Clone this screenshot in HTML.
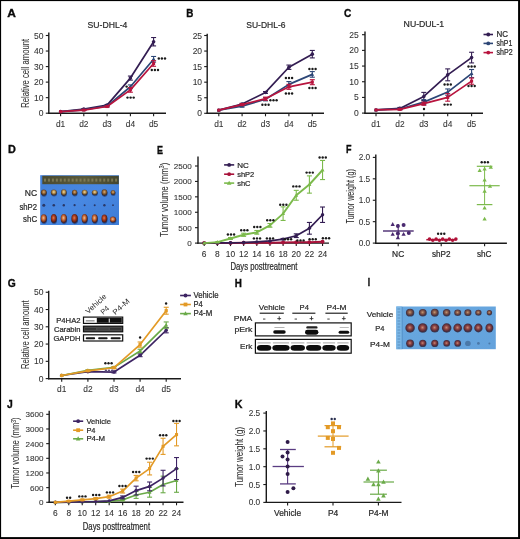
<!DOCTYPE html>
<html><head><meta charset="utf-8"><style>
html,body{margin:0;padding:0;background:#fff;}
body{width:520px;height:539px;overflow:hidden;position:relative;}
svg{position:absolute;left:0;top:0;will-change:transform;}
text{font-family:"Liberation Sans", sans-serif;}
</style></head><body>
<svg width="520" height="539" viewBox="0 0 520 539">
<defs>
<linearGradient id="gBlueD" x1="0" y1="0" x2="1" y2="1"><stop offset="0" stop-color="#4280da"/><stop offset="0.5" stop-color="#4888e2"/><stop offset="1" stop-color="#3e7cd6"/></linearGradient>
<linearGradient id="gRuler" x1="0" y1="0" x2="1" y2="0"><stop offset="0" stop-color="#4a4a30"/><stop offset="0.55" stop-color="#5a5a3c"/><stop offset="1" stop-color="#44462e"/></linearGradient>
<radialGradient id="gTumNC1" cx="0.5" cy="0.4" r="0.55"><stop offset="0" stop-color="#d8b070"/><stop offset="0.45" stop-color="#9a6a3a"/><stop offset="0.85" stop-color="#4a3424"/><stop offset="1" stop-color="#2a2a40"/></radialGradient>
<radialGradient id="gTumNC2" cx="0.5" cy="0.4" r="0.55"><stop offset="0" stop-color="#f0e0a0"/><stop offset="0.45" stop-color="#b89050"/><stop offset="0.85" stop-color="#54402a"/><stop offset="1" stop-color="#2a2a40"/></radialGradient>
<radialGradient id="gTumC1" cx="0.45" cy="0.42" r="0.55"><stop offset="0" stop-color="#f0c090"/><stop offset="0.45" stop-color="#c86a3a"/><stop offset="0.85" stop-color="#6a2c18"/><stop offset="1" stop-color="#2a2240"/></radialGradient>
<radialGradient id="gTumC2" cx="0.45" cy="0.42" r="0.55"><stop offset="0" stop-color="#e08050"/><stop offset="0.45" stop-color="#a83a20"/><stop offset="0.85" stop-color="#5a2014"/><stop offset="1" stop-color="#2a2240"/></radialGradient>
<radialGradient id="gTumI1" cx="0.47" cy="0.45" r="0.52"><stop offset="0" stop-color="#c09a78"/><stop offset="0.4" stop-color="#8a5a48"/><stop offset="0.8" stop-color="#4a3440"/><stop offset="1" stop-color="#34405e"/></radialGradient>
<radialGradient id="gTumI2" cx="0.47" cy="0.45" r="0.52"><stop offset="0" stop-color="#c88a78"/><stop offset="0.4" stop-color="#8e4444"/><stop offset="0.8" stop-color="#4a2a3a"/><stop offset="1" stop-color="#34405e"/></radialGradient>
<linearGradient id="gBlueI" x1="0" y1="0" x2="1" y2="1"><stop offset="0" stop-color="#68a8e0"/><stop offset="1" stop-color="#64a2dc"/></linearGradient><filter id="blur1" x="-10%" y="-50%" width="120%" height="200%"><feGaussianBlur stdDeviation="0.35"/></filter></defs>
<rect x="0" y="0" width="520" height="539" fill="#fff"/>
<text transform="translate(7.2 16.8) scale(1.0478 1)" x="0" y="0" font-size="11.4" font-weight="bold" fill="#0a0a0a" stroke="#0a0a0a" stroke-width="0.35">A</text>
<text x="107.5" y="27.8" font-size="9.5" text-anchor="middle" fill="#2a2a2a" stroke="#2a2a2a" stroke-width="0.22" textLength="39.8" lengthAdjust="spacingAndGlyphs">SU-DHL-4</text>
<line x1="48.8" y1="32.6" x2="48.8" y2="113.9" stroke="#1a1a1a" stroke-width="1.4"/>
<line x1="45.8" y1="113.2" x2="48.8" y2="113.2" stroke="#1a1a1a" stroke-width="1.1"/>
<text x="43.5" y="116.24" font-size="8.5" text-anchor="end" fill="#333" stroke="#333" stroke-width="0.08">0</text>
<line x1="45.8" y1="97.66" x2="48.8" y2="97.66" stroke="#1a1a1a" stroke-width="1.1"/>
<text x="43.5" y="100.7" font-size="8.5" text-anchor="end" fill="#333" stroke="#333" stroke-width="0.08">10</text>
<line x1="45.8" y1="82.12" x2="48.8" y2="82.12" stroke="#1a1a1a" stroke-width="1.1"/>
<text x="43.5" y="85.16" font-size="8.5" text-anchor="end" fill="#333" stroke="#333" stroke-width="0.08">20</text>
<line x1="45.8" y1="66.58" x2="48.8" y2="66.58" stroke="#1a1a1a" stroke-width="1.1"/>
<text x="43.5" y="69.62" font-size="8.5" text-anchor="end" fill="#333" stroke="#333" stroke-width="0.08">30</text>
<line x1="45.8" y1="51.04" x2="48.8" y2="51.04" stroke="#1a1a1a" stroke-width="1.1"/>
<text x="43.5" y="54.08" font-size="8.5" text-anchor="end" fill="#333" stroke="#333" stroke-width="0.08">40</text>
<line x1="45.8" y1="35.5" x2="48.8" y2="35.5" stroke="#1a1a1a" stroke-width="1.1"/>
<text x="43.5" y="38.54" font-size="8.5" text-anchor="end" fill="#333" stroke="#333" stroke-width="0.08">50</text>
<line x1="48.1" y1="113.3" x2="166" y2="113.3" stroke="#1a1a1a" stroke-width="1.4"/>
<line x1="60.6" y1="113.3" x2="60.6" y2="116.3" stroke="#1a1a1a" stroke-width="1.1"/>
<line x1="83.8" y1="113.3" x2="83.8" y2="116.3" stroke="#1a1a1a" stroke-width="1.1"/>
<line x1="107.1" y1="113.3" x2="107.1" y2="116.3" stroke="#1a1a1a" stroke-width="1.1"/>
<line x1="130.4" y1="113.3" x2="130.4" y2="116.3" stroke="#1a1a1a" stroke-width="1.1"/>
<line x1="153.6" y1="113.3" x2="153.6" y2="116.3" stroke="#1a1a1a" stroke-width="1.1"/>
<text x="60.6" y="127.2" font-size="8.7" text-anchor="middle" fill="#333" stroke="#333" stroke-width="0.08" textLength="9.3" lengthAdjust="spacingAndGlyphs">d1</text>
<text x="83.8" y="127.2" font-size="8.7" text-anchor="middle" fill="#333" stroke="#333" stroke-width="0.08" textLength="9.3" lengthAdjust="spacingAndGlyphs">d2</text>
<text x="107.1" y="127.2" font-size="8.7" text-anchor="middle" fill="#333" stroke="#333" stroke-width="0.08" textLength="9.3" lengthAdjust="spacingAndGlyphs">d3</text>
<text x="130.4" y="127.2" font-size="8.7" text-anchor="middle" fill="#333" stroke="#333" stroke-width="0.08" textLength="9.3" lengthAdjust="spacingAndGlyphs">d4</text>
<text x="153.6" y="127.2" font-size="8.7" text-anchor="middle" fill="#333" stroke="#333" stroke-width="0.08" textLength="9.3" lengthAdjust="spacingAndGlyphs">d5</text>
<g transform="translate(28.6 73.4) rotate(-90) scale(0.7230 1)"><text x="0" y="0" font-size="10.6" text-anchor="middle" fill="#303030" stroke="#303030" stroke-width="0.06">Relative cell amount</text></g>
<polyline points="60.6,111.65 83.8,109.16 107.1,105.12 130.4,78.08 153.6,41.72" fill="none" stroke="#331d52" stroke-width="1.7" stroke-linejoin="round"/>
<circle cx="60.6" cy="111.65" r="1.8" fill="#331d52"/>
<line x1="83.8" y1="108.69" x2="83.8" y2="109.63" stroke="#331d52" stroke-width="1.1"/>
<line x1="81.3" y1="108.69" x2="86.3" y2="108.69" stroke="#331d52" stroke-width="1.1"/>
<line x1="81.3" y1="109.63" x2="86.3" y2="109.63" stroke="#331d52" stroke-width="1.1"/>
<circle cx="83.8" cy="109.16" r="1.8" fill="#331d52"/>
<line x1="107.1" y1="104.5" x2="107.1" y2="105.74" stroke="#331d52" stroke-width="1.1"/>
<line x1="104.6" y1="104.5" x2="109.6" y2="104.5" stroke="#331d52" stroke-width="1.1"/>
<line x1="104.6" y1="105.74" x2="109.6" y2="105.74" stroke="#331d52" stroke-width="1.1"/>
<circle cx="107.1" cy="105.12" r="1.8" fill="#331d52"/>
<line x1="130.4" y1="76.06" x2="130.4" y2="80.1" stroke="#331d52" stroke-width="1.1"/>
<line x1="127.9" y1="76.06" x2="132.9" y2="76.06" stroke="#331d52" stroke-width="1.1"/>
<line x1="127.9" y1="80.1" x2="132.9" y2="80.1" stroke="#331d52" stroke-width="1.1"/>
<circle cx="130.4" cy="78.08" r="1.8" fill="#331d52"/>
<line x1="153.6" y1="37.52" x2="153.6" y2="45.91" stroke="#331d52" stroke-width="1.1"/>
<line x1="151.1" y1="37.52" x2="156.1" y2="37.52" stroke="#331d52" stroke-width="1.1"/>
<line x1="151.1" y1="45.91" x2="156.1" y2="45.91" stroke="#331d52" stroke-width="1.1"/>
<circle cx="153.6" cy="41.72" r="1.8" fill="#331d52"/>
<polyline points="60.6,111.65 83.8,109.78 107.1,106.05 130.4,86.78 153.6,59.28" fill="none" stroke="#2c4676" stroke-width="1.7" stroke-linejoin="round"/>
<polygon points="60.6,109.63 58.73,112.99 62.47,112.99" fill="#2c4676"/>
<line x1="83.8" y1="109.31" x2="83.8" y2="110.25" stroke="#2c4676" stroke-width="1.1"/>
<line x1="81.3" y1="109.31" x2="86.3" y2="109.31" stroke="#2c4676" stroke-width="1.1"/>
<line x1="81.3" y1="110.25" x2="86.3" y2="110.25" stroke="#2c4676" stroke-width="1.1"/>
<polygon points="83.8,107.76 81.93,111.13 85.67,111.13" fill="#2c4676"/>
<line x1="107.1" y1="105.43" x2="107.1" y2="106.67" stroke="#2c4676" stroke-width="1.1"/>
<line x1="104.6" y1="105.43" x2="109.6" y2="105.43" stroke="#2c4676" stroke-width="1.1"/>
<line x1="104.6" y1="106.67" x2="109.6" y2="106.67" stroke="#2c4676" stroke-width="1.1"/>
<polygon points="107.1,104.03 105.23,107.4 108.97,107.4" fill="#2c4676"/>
<line x1="130.4" y1="84.92" x2="130.4" y2="88.65" stroke="#2c4676" stroke-width="1.1"/>
<line x1="127.9" y1="84.92" x2="132.9" y2="84.92" stroke="#2c4676" stroke-width="1.1"/>
<line x1="127.9" y1="88.65" x2="132.9" y2="88.65" stroke="#2c4676" stroke-width="1.1"/>
<polygon points="130.4,84.76 128.53,88.13 132.27,88.13" fill="#2c4676"/>
<line x1="153.6" y1="56.48" x2="153.6" y2="62.07" stroke="#2c4676" stroke-width="1.1"/>
<line x1="151.1" y1="56.48" x2="156.1" y2="56.48" stroke="#2c4676" stroke-width="1.1"/>
<line x1="151.1" y1="62.07" x2="156.1" y2="62.07" stroke="#2c4676" stroke-width="1.1"/>
<polygon points="153.6,57.26 151.73,60.62 155.47,60.62" fill="#2c4676"/>
<polyline points="60.6,111.65 83.8,110.09 107.1,106.52 130.4,89.89 153.6,63.47" fill="none" stroke="#b8143e" stroke-width="1.7" stroke-linejoin="round"/>
<rect x="59.07" y="110.12" width="3.06" height="3.06" fill="#b8143e" stroke="none" stroke-width="1"/>
<line x1="83.8" y1="109.63" x2="83.8" y2="110.56" stroke="#b8143e" stroke-width="1.1"/>
<line x1="81.3" y1="109.63" x2="86.3" y2="109.63" stroke="#b8143e" stroke-width="1.1"/>
<line x1="81.3" y1="110.56" x2="86.3" y2="110.56" stroke="#b8143e" stroke-width="1.1"/>
<rect x="82.27" y="108.56" width="3.06" height="3.06" fill="#b8143e" stroke="none" stroke-width="1"/>
<line x1="107.1" y1="105.9" x2="107.1" y2="107.14" stroke="#b8143e" stroke-width="1.1"/>
<line x1="104.6" y1="105.9" x2="109.6" y2="105.9" stroke="#b8143e" stroke-width="1.1"/>
<line x1="104.6" y1="107.14" x2="109.6" y2="107.14" stroke="#b8143e" stroke-width="1.1"/>
<rect x="105.57" y="104.99" width="3.06" height="3.06" fill="#b8143e" stroke="none" stroke-width="1"/>
<line x1="130.4" y1="87.56" x2="130.4" y2="92.22" stroke="#b8143e" stroke-width="1.1"/>
<line x1="127.9" y1="87.56" x2="132.9" y2="87.56" stroke="#b8143e" stroke-width="1.1"/>
<line x1="127.9" y1="92.22" x2="132.9" y2="92.22" stroke="#b8143e" stroke-width="1.1"/>
<rect x="128.87" y="88.36" width="3.06" height="3.06" fill="#b8143e" stroke="none" stroke-width="1"/>
<line x1="153.6" y1="60.67" x2="153.6" y2="66.27" stroke="#b8143e" stroke-width="1.1"/>
<line x1="151.1" y1="60.67" x2="156.1" y2="60.67" stroke="#b8143e" stroke-width="1.1"/>
<line x1="151.1" y1="66.27" x2="156.1" y2="66.27" stroke="#b8143e" stroke-width="1.1"/>
<rect x="152.07" y="61.94" width="3.06" height="3.06" fill="#b8143e" stroke="none" stroke-width="1"/>
<circle cx="158.8" cy="58.5" r="1.2" fill="#1a1a1a"/>
<circle cx="161.9" cy="58.5" r="1.2" fill="#1a1a1a"/>
<circle cx="165" cy="58.5" r="1.2" fill="#1a1a1a"/>
<circle cx="151.8" cy="70" r="1.2" fill="#1a1a1a"/>
<circle cx="154.9" cy="70" r="1.2" fill="#1a1a1a"/>
<circle cx="158" cy="70" r="1.2" fill="#1a1a1a"/>
<circle cx="127.5" cy="97.6" r="1.2" fill="#1a1a1a"/>
<circle cx="130.6" cy="97.6" r="1.2" fill="#1a1a1a"/>
<circle cx="133.7" cy="97.6" r="1.2" fill="#1a1a1a"/>
<circle cx="126.6" cy="86.6" r="1.2" fill="#1a1a1a"/>
<text transform="translate(186.2 16.8) scale(0.8650 1)" x="0" y="0" font-size="11.4" font-weight="bold" fill="#0a0a0a" stroke="#0a0a0a" stroke-width="0.35">B</text>
<text x="265.85" y="27.7" font-size="9.5" text-anchor="middle" fill="#2a2a2a" stroke="#2a2a2a" stroke-width="0.22" textLength="39.2" lengthAdjust="spacingAndGlyphs">SU-DHL-6</text>
<line x1="207.2" y1="33.8" x2="207.2" y2="114" stroke="#1a1a1a" stroke-width="1.4"/>
<line x1="204.2" y1="113.3" x2="207.2" y2="113.3" stroke="#1a1a1a" stroke-width="1.1"/>
<text x="202.1" y="116.34" font-size="8.5" text-anchor="end" fill="#333" stroke="#333" stroke-width="0.08">0</text>
<line x1="204.2" y1="97.74" x2="207.2" y2="97.74" stroke="#1a1a1a" stroke-width="1.1"/>
<text x="202.1" y="100.78" font-size="8.5" text-anchor="end" fill="#333" stroke="#333" stroke-width="0.08">5</text>
<line x1="204.2" y1="82.18" x2="207.2" y2="82.18" stroke="#1a1a1a" stroke-width="1.1"/>
<text x="202.1" y="85.22" font-size="8.5" text-anchor="end" fill="#333" stroke="#333" stroke-width="0.08">10</text>
<line x1="204.2" y1="66.62" x2="207.2" y2="66.62" stroke="#1a1a1a" stroke-width="1.1"/>
<text x="202.1" y="69.66" font-size="8.5" text-anchor="end" fill="#333" stroke="#333" stroke-width="0.08">15</text>
<line x1="204.2" y1="51.06" x2="207.2" y2="51.06" stroke="#1a1a1a" stroke-width="1.1"/>
<text x="202.1" y="54.1" font-size="8.5" text-anchor="end" fill="#333" stroke="#333" stroke-width="0.08">20</text>
<line x1="204.2" y1="35.5" x2="207.2" y2="35.5" stroke="#1a1a1a" stroke-width="1.1"/>
<text x="202.1" y="38.54" font-size="8.5" text-anchor="end" fill="#333" stroke="#333" stroke-width="0.08">25</text>
<line x1="206.5" y1="113.3" x2="324" y2="113.3" stroke="#1a1a1a" stroke-width="1.4"/>
<line x1="218.8" y1="113.3" x2="218.8" y2="116.3" stroke="#1a1a1a" stroke-width="1.1"/>
<line x1="242.1" y1="113.3" x2="242.1" y2="116.3" stroke="#1a1a1a" stroke-width="1.1"/>
<line x1="265.5" y1="113.3" x2="265.5" y2="116.3" stroke="#1a1a1a" stroke-width="1.1"/>
<line x1="288.9" y1="113.3" x2="288.9" y2="116.3" stroke="#1a1a1a" stroke-width="1.1"/>
<line x1="312.3" y1="113.3" x2="312.3" y2="116.3" stroke="#1a1a1a" stroke-width="1.1"/>
<text x="218.8" y="127.2" font-size="8.7" text-anchor="middle" fill="#333" stroke="#333" stroke-width="0.08" textLength="9.3" lengthAdjust="spacingAndGlyphs">d1</text>
<text x="242.1" y="127.2" font-size="8.7" text-anchor="middle" fill="#333" stroke="#333" stroke-width="0.08" textLength="9.3" lengthAdjust="spacingAndGlyphs">d2</text>
<text x="265.5" y="127.2" font-size="8.7" text-anchor="middle" fill="#333" stroke="#333" stroke-width="0.08" textLength="9.3" lengthAdjust="spacingAndGlyphs">d3</text>
<text x="288.9" y="127.2" font-size="8.7" text-anchor="middle" fill="#333" stroke="#333" stroke-width="0.08" textLength="9.3" lengthAdjust="spacingAndGlyphs">d4</text>
<text x="312.3" y="127.2" font-size="8.7" text-anchor="middle" fill="#333" stroke="#333" stroke-width="0.08" textLength="9.3" lengthAdjust="spacingAndGlyphs">d5</text>
<polyline points="218.8,110.19 242.1,103.96 265.5,92.45 288.9,67.24 312.3,54.17" fill="none" stroke="#331d52" stroke-width="1.7" stroke-linejoin="round"/>
<circle cx="218.8" cy="110.19" r="1.8" fill="#331d52"/>
<line x1="242.1" y1="103.34" x2="242.1" y2="104.59" stroke="#331d52" stroke-width="1.1"/>
<line x1="239.6" y1="103.34" x2="244.6" y2="103.34" stroke="#331d52" stroke-width="1.1"/>
<line x1="239.6" y1="104.59" x2="244.6" y2="104.59" stroke="#331d52" stroke-width="1.1"/>
<circle cx="242.1" cy="103.96" r="1.8" fill="#331d52"/>
<line x1="265.5" y1="91.52" x2="265.5" y2="93.38" stroke="#331d52" stroke-width="1.1"/>
<line x1="263" y1="91.52" x2="268" y2="91.52" stroke="#331d52" stroke-width="1.1"/>
<line x1="263" y1="93.38" x2="268" y2="93.38" stroke="#331d52" stroke-width="1.1"/>
<circle cx="265.5" cy="92.45" r="1.8" fill="#331d52"/>
<line x1="288.9" y1="65.06" x2="288.9" y2="69.42" stroke="#331d52" stroke-width="1.1"/>
<line x1="286.4" y1="65.06" x2="291.4" y2="65.06" stroke="#331d52" stroke-width="1.1"/>
<line x1="286.4" y1="69.42" x2="291.4" y2="69.42" stroke="#331d52" stroke-width="1.1"/>
<circle cx="288.9" cy="67.24" r="1.8" fill="#331d52"/>
<line x1="312.3" y1="50.44" x2="312.3" y2="57.91" stroke="#331d52" stroke-width="1.1"/>
<line x1="309.8" y1="50.44" x2="314.8" y2="50.44" stroke="#331d52" stroke-width="1.1"/>
<line x1="309.8" y1="57.91" x2="314.8" y2="57.91" stroke="#331d52" stroke-width="1.1"/>
<circle cx="312.3" cy="54.17" r="1.8" fill="#331d52"/>
<polyline points="218.8,110.19 242.1,106.14 265.5,99.3 288.9,84.36 312.3,74.4" fill="none" stroke="#2c4676" stroke-width="1.7" stroke-linejoin="round"/>
<polygon points="218.8,108.17 216.93,111.53 220.67,111.53" fill="#2c4676"/>
<line x1="242.1" y1="105.21" x2="242.1" y2="107.08" stroke="#2c4676" stroke-width="1.1"/>
<line x1="239.6" y1="105.21" x2="244.6" y2="105.21" stroke="#2c4676" stroke-width="1.1"/>
<line x1="239.6" y1="107.08" x2="244.6" y2="107.08" stroke="#2c4676" stroke-width="1.1"/>
<polygon points="242.1,104.12 240.23,107.49 243.97,107.49" fill="#2c4676"/>
<line x1="265.5" y1="97.74" x2="265.5" y2="100.85" stroke="#2c4676" stroke-width="1.1"/>
<line x1="263" y1="97.74" x2="268" y2="97.74" stroke="#2c4676" stroke-width="1.1"/>
<line x1="263" y1="100.85" x2="268" y2="100.85" stroke="#2c4676" stroke-width="1.1"/>
<polygon points="265.5,97.28 263.63,100.64 267.37,100.64" fill="#2c4676"/>
<line x1="288.9" y1="81.56" x2="288.9" y2="87.16" stroke="#2c4676" stroke-width="1.1"/>
<line x1="286.4" y1="81.56" x2="291.4" y2="81.56" stroke="#2c4676" stroke-width="1.1"/>
<line x1="286.4" y1="87.16" x2="291.4" y2="87.16" stroke="#2c4676" stroke-width="1.1"/>
<polygon points="288.9,82.34 287.03,85.7 290.77,85.7" fill="#2c4676"/>
<line x1="312.3" y1="71.6" x2="312.3" y2="77.2" stroke="#2c4676" stroke-width="1.1"/>
<line x1="309.8" y1="71.6" x2="314.8" y2="71.6" stroke="#2c4676" stroke-width="1.1"/>
<line x1="309.8" y1="77.2" x2="314.8" y2="77.2" stroke="#2c4676" stroke-width="1.1"/>
<polygon points="312.3,72.38 310.43,75.75 314.17,75.75" fill="#2c4676"/>
<polyline points="218.8,110.19 242.1,104.59 265.5,98.67 288.9,86.85 312.3,82.18" fill="none" stroke="#b8143e" stroke-width="1.7" stroke-linejoin="round"/>
<rect x="217.27" y="108.66" width="3.06" height="3.06" fill="#b8143e" stroke="none" stroke-width="1"/>
<line x1="242.1" y1="103.65" x2="242.1" y2="105.52" stroke="#b8143e" stroke-width="1.1"/>
<line x1="239.6" y1="103.65" x2="244.6" y2="103.65" stroke="#b8143e" stroke-width="1.1"/>
<line x1="239.6" y1="105.52" x2="244.6" y2="105.52" stroke="#b8143e" stroke-width="1.1"/>
<rect x="240.57" y="103.06" width="3.06" height="3.06" fill="#b8143e" stroke="none" stroke-width="1"/>
<line x1="265.5" y1="97.12" x2="265.5" y2="100.23" stroke="#b8143e" stroke-width="1.1"/>
<line x1="263" y1="97.12" x2="268" y2="97.12" stroke="#b8143e" stroke-width="1.1"/>
<line x1="263" y1="100.23" x2="268" y2="100.23" stroke="#b8143e" stroke-width="1.1"/>
<rect x="263.97" y="97.14" width="3.06" height="3.06" fill="#b8143e" stroke="none" stroke-width="1"/>
<line x1="288.9" y1="84.36" x2="288.9" y2="89.34" stroke="#b8143e" stroke-width="1.1"/>
<line x1="286.4" y1="84.36" x2="291.4" y2="84.36" stroke="#b8143e" stroke-width="1.1"/>
<line x1="286.4" y1="89.34" x2="291.4" y2="89.34" stroke="#b8143e" stroke-width="1.1"/>
<rect x="287.37" y="85.32" width="3.06" height="3.06" fill="#b8143e" stroke="none" stroke-width="1"/>
<line x1="312.3" y1="79.69" x2="312.3" y2="84.67" stroke="#b8143e" stroke-width="1.1"/>
<line x1="309.8" y1="79.69" x2="314.8" y2="79.69" stroke="#b8143e" stroke-width="1.1"/>
<line x1="309.8" y1="84.67" x2="314.8" y2="84.67" stroke="#b8143e" stroke-width="1.1"/>
<rect x="310.77" y="80.65" width="3.06" height="3.06" fill="#b8143e" stroke="none" stroke-width="1"/>
<circle cx="270.4" cy="100.3" r="1.2" fill="#1a1a1a"/>
<circle cx="273.5" cy="100.3" r="1.2" fill="#1a1a1a"/>
<circle cx="276.6" cy="100.3" r="1.2" fill="#1a1a1a"/>
<circle cx="262.4" cy="104.8" r="1.2" fill="#1a1a1a"/>
<circle cx="265.5" cy="104.8" r="1.2" fill="#1a1a1a"/>
<circle cx="268.6" cy="104.8" r="1.2" fill="#1a1a1a"/>
<circle cx="285.9" cy="78" r="1.2" fill="#1a1a1a"/>
<circle cx="289" cy="78" r="1.2" fill="#1a1a1a"/>
<circle cx="292.1" cy="78" r="1.2" fill="#1a1a1a"/>
<circle cx="285.9" cy="93.5" r="1.2" fill="#1a1a1a"/>
<circle cx="289" cy="93.5" r="1.2" fill="#1a1a1a"/>
<circle cx="292.1" cy="93.5" r="1.2" fill="#1a1a1a"/>
<circle cx="309.4" cy="69" r="1.2" fill="#1a1a1a"/>
<circle cx="312.5" cy="69" r="1.2" fill="#1a1a1a"/>
<circle cx="315.6" cy="69" r="1.2" fill="#1a1a1a"/>
<circle cx="309.4" cy="88" r="1.2" fill="#1a1a1a"/>
<circle cx="312.5" cy="88" r="1.2" fill="#1a1a1a"/>
<circle cx="315.6" cy="88" r="1.2" fill="#1a1a1a"/>
<text transform="translate(344 16.9) scale(0.8894 1)" x="0" y="0" font-size="11.4" font-weight="bold" fill="#0a0a0a" stroke="#0a0a0a" stroke-width="0.35">C</text>
<text x="423.9" y="26.5" font-size="9.5" text-anchor="middle" fill="#2a2a2a" stroke="#2a2a2a" stroke-width="0.22" textLength="40.6" lengthAdjust="spacingAndGlyphs">NU-DUL-1</text>
<line x1="365" y1="31.5" x2="365" y2="113.8" stroke="#1a1a1a" stroke-width="1.4"/>
<line x1="362" y1="113.1" x2="365" y2="113.1" stroke="#1a1a1a" stroke-width="1.1"/>
<text x="358.8" y="116.14" font-size="8.5" text-anchor="end" fill="#333" stroke="#333" stroke-width="0.08">0</text>
<line x1="362" y1="97.42" x2="365" y2="97.42" stroke="#1a1a1a" stroke-width="1.1"/>
<text x="358.8" y="100.46" font-size="8.5" text-anchor="end" fill="#333" stroke="#333" stroke-width="0.08">5</text>
<line x1="362" y1="81.74" x2="365" y2="81.74" stroke="#1a1a1a" stroke-width="1.1"/>
<text x="358.8" y="84.78" font-size="8.5" text-anchor="end" fill="#333" stroke="#333" stroke-width="0.08">10</text>
<line x1="362" y1="66.06" x2="365" y2="66.06" stroke="#1a1a1a" stroke-width="1.1"/>
<text x="358.8" y="69.1" font-size="8.5" text-anchor="end" fill="#333" stroke="#333" stroke-width="0.08">15</text>
<line x1="362" y1="50.38" x2="365" y2="50.38" stroke="#1a1a1a" stroke-width="1.1"/>
<text x="358.8" y="53.42" font-size="8.5" text-anchor="end" fill="#333" stroke="#333" stroke-width="0.08">20</text>
<line x1="362" y1="34.7" x2="365" y2="34.7" stroke="#1a1a1a" stroke-width="1.1"/>
<text x="358.8" y="37.74" font-size="8.5" text-anchor="end" fill="#333" stroke="#333" stroke-width="0.08">25</text>
<line x1="364.3" y1="113.2" x2="483" y2="113.2" stroke="#1a1a1a" stroke-width="1.4"/>
<line x1="376" y1="113.2" x2="376" y2="116.2" stroke="#1a1a1a" stroke-width="1.1"/>
<line x1="399.9" y1="113.2" x2="399.9" y2="116.2" stroke="#1a1a1a" stroke-width="1.1"/>
<line x1="423.8" y1="113.2" x2="423.8" y2="116.2" stroke="#1a1a1a" stroke-width="1.1"/>
<line x1="447.7" y1="113.2" x2="447.7" y2="116.2" stroke="#1a1a1a" stroke-width="1.1"/>
<line x1="471.6" y1="113.2" x2="471.6" y2="116.2" stroke="#1a1a1a" stroke-width="1.1"/>
<text x="376" y="127.2" font-size="8.7" text-anchor="middle" fill="#333" stroke="#333" stroke-width="0.08" textLength="9.3" lengthAdjust="spacingAndGlyphs">d1</text>
<text x="399.9" y="127.2" font-size="8.7" text-anchor="middle" fill="#333" stroke="#333" stroke-width="0.08" textLength="9.3" lengthAdjust="spacingAndGlyphs">d2</text>
<text x="423.8" y="127.2" font-size="8.7" text-anchor="middle" fill="#333" stroke="#333" stroke-width="0.08" textLength="9.3" lengthAdjust="spacingAndGlyphs">d3</text>
<text x="447.7" y="127.2" font-size="8.7" text-anchor="middle" fill="#333" stroke="#333" stroke-width="0.08" textLength="9.3" lengthAdjust="spacingAndGlyphs">d4</text>
<text x="471.6" y="127.2" font-size="8.7" text-anchor="middle" fill="#333" stroke="#333" stroke-width="0.08" textLength="9.3" lengthAdjust="spacingAndGlyphs">d5</text>
<polyline points="376,109.96 399.9,108.4 423.8,96.48 447.7,74.84 471.6,57.59" fill="none" stroke="#331d52" stroke-width="1.7" stroke-linejoin="round"/>
<circle cx="376" cy="109.96" r="1.8" fill="#331d52"/>
<line x1="399.9" y1="107.46" x2="399.9" y2="109.34" stroke="#331d52" stroke-width="1.1"/>
<line x1="397.4" y1="107.46" x2="402.4" y2="107.46" stroke="#331d52" stroke-width="1.1"/>
<line x1="397.4" y1="109.34" x2="402.4" y2="109.34" stroke="#331d52" stroke-width="1.1"/>
<circle cx="399.9" cy="108.4" r="1.8" fill="#331d52"/>
<line x1="423.8" y1="92.4" x2="423.8" y2="100.56" stroke="#331d52" stroke-width="1.1"/>
<line x1="421.3" y1="92.4" x2="426.3" y2="92.4" stroke="#331d52" stroke-width="1.1"/>
<line x1="421.3" y1="100.56" x2="426.3" y2="100.56" stroke="#331d52" stroke-width="1.1"/>
<circle cx="423.8" cy="96.48" r="1.8" fill="#331d52"/>
<line x1="447.7" y1="68.88" x2="447.7" y2="80.8" stroke="#331d52" stroke-width="1.1"/>
<line x1="445.2" y1="68.88" x2="450.2" y2="68.88" stroke="#331d52" stroke-width="1.1"/>
<line x1="445.2" y1="80.8" x2="450.2" y2="80.8" stroke="#331d52" stroke-width="1.1"/>
<circle cx="447.7" cy="74.84" r="1.8" fill="#331d52"/>
<line x1="471.6" y1="52.26" x2="471.6" y2="62.92" stroke="#331d52" stroke-width="1.1"/>
<line x1="469.1" y1="52.26" x2="474.1" y2="52.26" stroke="#331d52" stroke-width="1.1"/>
<line x1="469.1" y1="62.92" x2="474.1" y2="62.92" stroke="#331d52" stroke-width="1.1"/>
<circle cx="471.6" cy="57.59" r="1.8" fill="#331d52"/>
<polyline points="376,109.96 399.9,109.02 423.8,102.12 447.7,92.09 471.6,73.59" fill="none" stroke="#2c4676" stroke-width="1.7" stroke-linejoin="round"/>
<polygon points="376,107.94 374.13,111.31 377.87,111.31" fill="#2c4676"/>
<line x1="399.9" y1="108.4" x2="399.9" y2="109.65" stroke="#2c4676" stroke-width="1.1"/>
<line x1="397.4" y1="108.4" x2="402.4" y2="108.4" stroke="#2c4676" stroke-width="1.1"/>
<line x1="397.4" y1="109.65" x2="402.4" y2="109.65" stroke="#2c4676" stroke-width="1.1"/>
<polygon points="399.9,107 398.03,110.37 401.77,110.37" fill="#2c4676"/>
<line x1="423.8" y1="99.62" x2="423.8" y2="104.63" stroke="#2c4676" stroke-width="1.1"/>
<line x1="421.3" y1="99.62" x2="426.3" y2="99.62" stroke="#2c4676" stroke-width="1.1"/>
<line x1="421.3" y1="104.63" x2="426.3" y2="104.63" stroke="#2c4676" stroke-width="1.1"/>
<polygon points="423.8,100.1 421.93,103.47 425.67,103.47" fill="#2c4676"/>
<line x1="447.7" y1="88.95" x2="447.7" y2="95.22" stroke="#2c4676" stroke-width="1.1"/>
<line x1="445.2" y1="88.95" x2="450.2" y2="88.95" stroke="#2c4676" stroke-width="1.1"/>
<line x1="445.2" y1="95.22" x2="450.2" y2="95.22" stroke="#2c4676" stroke-width="1.1"/>
<polygon points="447.7,90.07 445.83,93.44 449.57,93.44" fill="#2c4676"/>
<line x1="471.6" y1="69.51" x2="471.6" y2="77.66" stroke="#2c4676" stroke-width="1.1"/>
<line x1="469.1" y1="69.51" x2="474.1" y2="69.51" stroke="#2c4676" stroke-width="1.1"/>
<line x1="469.1" y1="77.66" x2="474.1" y2="77.66" stroke="#2c4676" stroke-width="1.1"/>
<polygon points="471.6,71.57 469.73,74.93 473.47,74.93" fill="#2c4676"/>
<polyline points="376,109.96 399.9,109.34 423.8,103.69 447.7,97.42 471.6,81.11" fill="none" stroke="#b8143e" stroke-width="1.7" stroke-linejoin="round"/>
<rect x="374.47" y="108.43" width="3.06" height="3.06" fill="#b8143e" stroke="none" stroke-width="1"/>
<line x1="399.9" y1="108.71" x2="399.9" y2="109.96" stroke="#b8143e" stroke-width="1.1"/>
<line x1="397.4" y1="108.71" x2="402.4" y2="108.71" stroke="#b8143e" stroke-width="1.1"/>
<line x1="397.4" y1="109.96" x2="402.4" y2="109.96" stroke="#b8143e" stroke-width="1.1"/>
<rect x="398.37" y="107.81" width="3.06" height="3.06" fill="#b8143e" stroke="none" stroke-width="1"/>
<line x1="423.8" y1="102.12" x2="423.8" y2="105.26" stroke="#b8143e" stroke-width="1.1"/>
<line x1="421.3" y1="102.12" x2="426.3" y2="102.12" stroke="#b8143e" stroke-width="1.1"/>
<line x1="421.3" y1="105.26" x2="426.3" y2="105.26" stroke="#b8143e" stroke-width="1.1"/>
<rect x="422.27" y="102.16" width="3.06" height="3.06" fill="#b8143e" stroke="none" stroke-width="1"/>
<line x1="447.7" y1="93.66" x2="447.7" y2="101.18" stroke="#b8143e" stroke-width="1.1"/>
<line x1="445.2" y1="93.66" x2="450.2" y2="93.66" stroke="#b8143e" stroke-width="1.1"/>
<line x1="445.2" y1="101.18" x2="450.2" y2="101.18" stroke="#b8143e" stroke-width="1.1"/>
<rect x="446.17" y="95.89" width="3.06" height="3.06" fill="#b8143e" stroke="none" stroke-width="1"/>
<line x1="471.6" y1="77.98" x2="471.6" y2="84.25" stroke="#b8143e" stroke-width="1.1"/>
<line x1="469.1" y1="77.98" x2="474.1" y2="77.98" stroke="#b8143e" stroke-width="1.1"/>
<line x1="469.1" y1="84.25" x2="474.1" y2="84.25" stroke="#b8143e" stroke-width="1.1"/>
<rect x="470.07" y="79.58" width="3.06" height="3.06" fill="#b8143e" stroke="none" stroke-width="1"/>
<circle cx="424" cy="109" r="1.2" fill="#1a1a1a"/>
<circle cx="444.6" cy="84.5" r="1.2" fill="#1a1a1a"/>
<circle cx="447.7" cy="84.5" r="1.2" fill="#1a1a1a"/>
<circle cx="450.8" cy="84.5" r="1.2" fill="#1a1a1a"/>
<circle cx="444.6" cy="104.6" r="1.2" fill="#1a1a1a"/>
<circle cx="447.7" cy="104.6" r="1.2" fill="#1a1a1a"/>
<circle cx="450.8" cy="104.6" r="1.2" fill="#1a1a1a"/>
<circle cx="468.5" cy="66.5" r="1.2" fill="#1a1a1a"/>
<circle cx="471.6" cy="66.5" r="1.2" fill="#1a1a1a"/>
<circle cx="474.7" cy="66.5" r="1.2" fill="#1a1a1a"/>
<circle cx="468.5" cy="86" r="1.2" fill="#1a1a1a"/>
<circle cx="471.6" cy="86" r="1.2" fill="#1a1a1a"/>
<circle cx="474.7" cy="86" r="1.2" fill="#1a1a1a"/>
<line x1="483.5" y1="34.5" x2="493" y2="34.5" stroke="#331d52" stroke-width="1.6"/>
<circle cx="488.25" cy="34.5" r="1.9" fill="#331d52"/>
<text x="496.5" y="37.1" font-size="8.2" text-anchor="start" fill="#2a2a2a" stroke="#2a2a2a" stroke-width="0.22" textLength="11.5" lengthAdjust="spacingAndGlyphs">NC</text>
<line x1="483.5" y1="43.4" x2="493" y2="43.4" stroke="#2c4676" stroke-width="1.6"/>
<circle cx="488.25" cy="43.4" r="1.9" fill="#2c4676"/>
<text x="496.5" y="46" font-size="8.2" text-anchor="start" fill="#2a2a2a" stroke="#2a2a2a" stroke-width="0.22" textLength="15.8" lengthAdjust="spacingAndGlyphs">shP1</text>
<line x1="483.5" y1="52.6" x2="493" y2="52.6" stroke="#b8143e" stroke-width="1.6"/>
<circle cx="488.25" cy="52.6" r="1.9" fill="#b8143e"/>
<text x="496.5" y="55.2" font-size="8.2" text-anchor="start" fill="#2a2a2a" stroke="#2a2a2a" stroke-width="0.22" textLength="16.1" lengthAdjust="spacingAndGlyphs">shP2</text>
<text transform="translate(8 153.1) scale(0.9503 1)" x="0" y="0" font-size="11.4" font-weight="bold" fill="#0a0a0a" stroke="#0a0a0a" stroke-width="0.35">D</text>
<rect x="40.2" y="175.2" width="78.8" height="49.8" fill="url(#gBlueD)" stroke="none" stroke-width="1"/>
<rect x="42.3" y="175.8" width="76.5" height="8.4" fill="url(#gRuler)" stroke="none" stroke-width="1"/>
<rect x="44" y="178.6" width="2" height="3" fill="#8a8660" stroke="none" stroke-width="1" opacity="0.75"/>
<rect x="47.95" y="178.6" width="2" height="3" fill="#8a8660" stroke="none" stroke-width="1" opacity="0.75"/>
<rect x="51.9" y="178.6" width="2" height="3" fill="#8a8660" stroke="none" stroke-width="1" opacity="0.75"/>
<rect x="55.85" y="178.6" width="2" height="3" fill="#8a8660" stroke="none" stroke-width="1" opacity="0.75"/>
<rect x="59.8" y="178.6" width="2" height="3" fill="#8a8660" stroke="none" stroke-width="1" opacity="0.75"/>
<rect x="63.75" y="178.6" width="2" height="3" fill="#8a8660" stroke="none" stroke-width="1" opacity="0.75"/>
<rect x="67.7" y="178.6" width="2" height="3" fill="#8a8660" stroke="none" stroke-width="1" opacity="0.75"/>
<rect x="71.65" y="178.6" width="2" height="3" fill="#8a8660" stroke="none" stroke-width="1" opacity="0.75"/>
<rect x="75.6" y="178.6" width="2" height="3" fill="#8a8660" stroke="none" stroke-width="1" opacity="0.75"/>
<rect x="79.55" y="178.6" width="2" height="3" fill="#8a8660" stroke="none" stroke-width="1" opacity="0.75"/>
<rect x="83.5" y="178.6" width="2" height="3" fill="#8a8660" stroke="none" stroke-width="1" opacity="0.75"/>
<rect x="87.45" y="178.6" width="2" height="3" fill="#8a8660" stroke="none" stroke-width="1" opacity="0.75"/>
<rect x="91.4" y="178.6" width="2" height="3" fill="#8a8660" stroke="none" stroke-width="1" opacity="0.75"/>
<rect x="95.35" y="178.6" width="2" height="3" fill="#8a8660" stroke="none" stroke-width="1" opacity="0.75"/>
<rect x="99.3" y="178.6" width="2" height="3" fill="#8a8660" stroke="none" stroke-width="1" opacity="0.75"/>
<rect x="103.25" y="178.6" width="2" height="3" fill="#8a8660" stroke="none" stroke-width="1" opacity="0.75"/>
<rect x="107.2" y="178.6" width="2" height="3" fill="#8a8660" stroke="none" stroke-width="1" opacity="0.75"/>
<rect x="111.15" y="178.6" width="2" height="3" fill="#8a8660" stroke="none" stroke-width="1" opacity="0.75"/>
<rect x="115.1" y="178.6" width="2" height="3" fill="#8a8660" stroke="none" stroke-width="1" opacity="0.75"/>
<ellipse cx="44.1" cy="193.6" rx="2.9" ry="3.1" fill="#1e2c58" opacity="0.55"/>
<ellipse cx="43.8" cy="192.6" rx="2.9" ry="3.1" fill="url(#gTumNC1)"/>
<circle cx="43.8" cy="205.2" r="1.5" fill="#2a3868"/>
<ellipse cx="44.1" cy="219.6" rx="3.1" ry="4.4" fill="#1e2c58" opacity="0.55"/>
<ellipse cx="43.8" cy="218.6" rx="3.1" ry="4.4" fill="url(#gTumC1)"/>
<ellipse cx="54.1" cy="193.6" rx="3" ry="3" fill="#1e2c58" opacity="0.55"/>
<ellipse cx="53.8" cy="192.6" rx="3" ry="3" fill="url(#gTumNC2)"/>
<circle cx="53.8" cy="205.2" r="1.3" fill="#2a3868"/>
<ellipse cx="54.1" cy="219.6" rx="3" ry="4.5" fill="#1e2c58" opacity="0.55"/>
<ellipse cx="53.8" cy="218.6" rx="3" ry="4.5" fill="url(#gTumC2)"/>
<ellipse cx="64.1" cy="193.6" rx="2.8" ry="3.3" fill="#1e2c58" opacity="0.55"/>
<ellipse cx="63.8" cy="192.6" rx="2.8" ry="3.3" fill="url(#gTumNC2)"/>
<circle cx="63.8" cy="205.2" r="1.2" fill="#2a3868"/>
<ellipse cx="64.1" cy="219.6" rx="3.1" ry="4.6" fill="#1e2c58" opacity="0.55"/>
<ellipse cx="63.8" cy="218.6" rx="3.1" ry="4.6" fill="url(#gTumC1)"/>
<ellipse cx="74.9" cy="193.6" rx="2.7" ry="2.9" fill="#1e2c58" opacity="0.55"/>
<ellipse cx="74.6" cy="192.6" rx="2.7" ry="2.9" fill="url(#gTumNC1)"/>
<circle cx="74.6" cy="205.2" r="1.1" fill="#2a3868"/>
<ellipse cx="74.9" cy="219.6" rx="3.2" ry="4.6" fill="#1e2c58" opacity="0.55"/>
<ellipse cx="74.6" cy="218.6" rx="3.2" ry="4.6" fill="url(#gTumC2)"/>
<ellipse cx="84.9" cy="193.6" rx="2.9" ry="2.8" fill="#1e2c58" opacity="0.55"/>
<ellipse cx="84.6" cy="192.6" rx="2.9" ry="2.8" fill="url(#gTumNC2)"/>
<circle cx="84.6" cy="205.2" r="1" fill="#2a3868"/>
<ellipse cx="84.9" cy="219.6" rx="3" ry="4.5" fill="#1e2c58" opacity="0.55"/>
<ellipse cx="84.6" cy="218.6" rx="3" ry="4.5" fill="url(#gTumC1)"/>
<ellipse cx="95" cy="193.6" rx="2.9" ry="2.7" fill="#1e2c58" opacity="0.55"/>
<ellipse cx="94.7" cy="192.6" rx="2.9" ry="2.7" fill="url(#gTumNC2)"/>
<circle cx="94.7" cy="205.2" r="1" fill="#2a3868"/>
<ellipse cx="95" cy="219.6" rx="3" ry="4.4" fill="#1e2c58" opacity="0.55"/>
<ellipse cx="94.7" cy="218.6" rx="3" ry="4.4" fill="url(#gTumC1)"/>
<ellipse cx="104.7" cy="193.6" rx="2.9" ry="3.3" fill="#1e2c58" opacity="0.55"/>
<ellipse cx="104.4" cy="192.6" rx="2.9" ry="3.3" fill="url(#gTumNC1)"/>
<circle cx="104.4" cy="205.2" r="1.2" fill="#2a3868"/>
<ellipse cx="104.7" cy="219.6" rx="2.9" ry="4.2" fill="#1e2c58" opacity="0.55"/>
<ellipse cx="104.4" cy="218.6" rx="2.9" ry="4.2" fill="url(#gTumC2)"/>
<ellipse cx="113.3" cy="193.6" rx="2.4" ry="2.5" fill="#1e2c58" opacity="0.55"/>
<ellipse cx="113" cy="192.6" rx="2.4" ry="2.5" fill="url(#gTumNC1)"/>
<circle cx="113" cy="205.2" r="0.9" fill="#2a3868"/>
<ellipse cx="113.3" cy="220.6" rx="3.1" ry="3" fill="#1e2c58" opacity="0.55"/>
<ellipse cx="113" cy="219.6" rx="3.1" ry="3" fill="url(#gTumC1)"/>
<text x="24.8" y="196.2" font-size="8.8" text-anchor="start" fill="#2a2a2a" stroke="#2a2a2a" stroke-width="0.22" textLength="12.3" lengthAdjust="spacingAndGlyphs">NC</text>
<text x="19.4" y="209.5" font-size="8.8" text-anchor="start" fill="#2a2a2a" stroke="#2a2a2a" stroke-width="0.22" textLength="17.7" lengthAdjust="spacingAndGlyphs">shP2</text>
<text x="23.1" y="222" font-size="8.8" text-anchor="start" fill="#2a2a2a" stroke="#2a2a2a" stroke-width="0.22" textLength="14" lengthAdjust="spacingAndGlyphs">shC</text>
<text transform="translate(156.9 153.5) scale(0.7855 1)" x="0" y="0" font-size="11.4" font-weight="bold" fill="#0a0a0a" stroke="#0a0a0a" stroke-width="0.35">E</text>
<line x1="198" y1="156.4" x2="198" y2="243.8" stroke="#1a1a1a" stroke-width="1.4"/>
<line x1="195" y1="243.1" x2="198" y2="243.1" stroke="#1a1a1a" stroke-width="1.1"/>
<text x="191.8" y="246" font-size="8.1" text-anchor="end" fill="#333" stroke="#333" stroke-width="0.08">0</text>
<line x1="195" y1="227.68" x2="198" y2="227.68" stroke="#1a1a1a" stroke-width="1.1"/>
<text x="191.8" y="230.58" font-size="8.1" text-anchor="end" fill="#333" stroke="#333" stroke-width="0.08">500</text>
<line x1="195" y1="212.26" x2="198" y2="212.26" stroke="#1a1a1a" stroke-width="1.1"/>
<text x="191.8" y="215.16" font-size="8.1" text-anchor="end" fill="#333" stroke="#333" stroke-width="0.08">1000</text>
<line x1="195" y1="196.84" x2="198" y2="196.84" stroke="#1a1a1a" stroke-width="1.1"/>
<text x="191.8" y="199.74" font-size="8.1" text-anchor="end" fill="#333" stroke="#333" stroke-width="0.08">1500</text>
<line x1="195" y1="181.42" x2="198" y2="181.42" stroke="#1a1a1a" stroke-width="1.1"/>
<text x="191.8" y="184.32" font-size="8.1" text-anchor="end" fill="#333" stroke="#333" stroke-width="0.08">2000</text>
<line x1="195" y1="166" x2="198" y2="166" stroke="#1a1a1a" stroke-width="1.1"/>
<text x="191.8" y="168.9" font-size="8.1" text-anchor="end" fill="#333" stroke="#333" stroke-width="0.08">2500</text>
<line x1="197.3" y1="243.1" x2="329" y2="243.1" stroke="#1a1a1a" stroke-width="1.4"/>
<line x1="204.2" y1="243.1" x2="204.2" y2="246.1" stroke="#1a1a1a" stroke-width="1.1"/>
<line x1="217.35" y1="243.1" x2="217.35" y2="246.1" stroke="#1a1a1a" stroke-width="1.1"/>
<line x1="230.5" y1="243.1" x2="230.5" y2="246.1" stroke="#1a1a1a" stroke-width="1.1"/>
<line x1="243.65" y1="243.1" x2="243.65" y2="246.1" stroke="#1a1a1a" stroke-width="1.1"/>
<line x1="256.8" y1="243.1" x2="256.8" y2="246.1" stroke="#1a1a1a" stroke-width="1.1"/>
<line x1="269.95" y1="243.1" x2="269.95" y2="246.1" stroke="#1a1a1a" stroke-width="1.1"/>
<line x1="283.1" y1="243.1" x2="283.1" y2="246.1" stroke="#1a1a1a" stroke-width="1.1"/>
<line x1="296.25" y1="243.1" x2="296.25" y2="246.1" stroke="#1a1a1a" stroke-width="1.1"/>
<line x1="309.4" y1="243.1" x2="309.4" y2="246.1" stroke="#1a1a1a" stroke-width="1.1"/>
<line x1="322.55" y1="243.1" x2="322.55" y2="246.1" stroke="#1a1a1a" stroke-width="1.1"/>
<text x="204.2" y="257.3" font-size="8.4" text-anchor="middle" fill="#333" stroke="#333" stroke-width="0.1">6</text>
<text x="217.35" y="257.3" font-size="8.4" text-anchor="middle" fill="#333" stroke="#333" stroke-width="0.1">8</text>
<text x="230.5" y="257.3" font-size="8.4" text-anchor="middle" fill="#333" stroke="#333" stroke-width="0.1">10</text>
<text x="243.65" y="257.3" font-size="8.4" text-anchor="middle" fill="#333" stroke="#333" stroke-width="0.1">12</text>
<text x="256.8" y="257.3" font-size="8.4" text-anchor="middle" fill="#333" stroke="#333" stroke-width="0.1">14</text>
<text x="269.95" y="257.3" font-size="8.4" text-anchor="middle" fill="#333" stroke="#333" stroke-width="0.1">16</text>
<text x="283.1" y="257.3" font-size="8.4" text-anchor="middle" fill="#333" stroke="#333" stroke-width="0.1">18</text>
<text x="296.25" y="257.3" font-size="8.4" text-anchor="middle" fill="#333" stroke="#333" stroke-width="0.1">20</text>
<text x="309.4" y="257.3" font-size="8.4" text-anchor="middle" fill="#333" stroke="#333" stroke-width="0.1">22</text>
<text x="322.55" y="257.3" font-size="8.4" text-anchor="middle" fill="#333" stroke="#333" stroke-width="0.1">24</text>
<text x="263.9" y="270.4" font-size="10.2" text-anchor="middle" fill="#2a2a2a" stroke="#2a2a2a" stroke-width="0.22" textLength="67" lengthAdjust="spacingAndGlyphs">Days posttreatment</text>
<g transform="translate(167.8 199.8) rotate(-90) scale(0.7828 1)"><text x="0" y="0" font-size="10.2" text-anchor="middle" fill="#303030" stroke="#303030" stroke-width="0.06">Tumor volume (mm<tspan font-size="6.5" dy="-3.6">3</tspan><tspan dy="3.6">)</tspan></text></g>
<polyline points="204.2,243.1 217.35,243.04 230.5,242.95 243.65,242.85 256.8,242.79 269.95,242.64 283.1,242.48 296.25,242.33 309.4,242.17 322.55,241.87" fill="none" stroke="#a8123a" stroke-width="2" stroke-linejoin="round"/>
<circle cx="204.2" cy="243.1" r="2" fill="#a8123a"/>
<circle cx="217.35" cy="243.04" r="2" fill="#a8123a"/>
<circle cx="230.5" cy="242.95" r="2" fill="#a8123a"/>
<circle cx="243.65" cy="242.85" r="2" fill="#a8123a"/>
<circle cx="256.8" cy="242.79" r="2" fill="#a8123a"/>
<circle cx="269.95" cy="242.64" r="2" fill="#a8123a"/>
<circle cx="283.1" cy="242.48" r="2" fill="#a8123a"/>
<circle cx="296.25" cy="242.33" r="2" fill="#a8123a"/>
<circle cx="309.4" cy="242.17" r="2" fill="#a8123a"/>
<circle cx="322.55" cy="241.87" r="2" fill="#a8123a"/>
<polyline points="204.2,243.1 217.35,242.95 230.5,242.79 243.65,242.48 256.8,241.87 269.95,240.94 283.1,239.09 296.25,235.7 309.4,228.3 322.55,214.73" fill="none" stroke="#331d52" stroke-width="1.7" stroke-linejoin="round"/>
<circle cx="204.2" cy="243.1" r="1.7" fill="#331d52"/>
<circle cx="217.35" cy="242.95" r="1.7" fill="#331d52"/>
<circle cx="230.5" cy="242.79" r="1.7" fill="#331d52"/>
<circle cx="243.65" cy="242.48" r="1.7" fill="#331d52"/>
<circle cx="256.8" cy="241.87" r="1.7" fill="#331d52"/>
<circle cx="269.95" cy="240.94" r="1.7" fill="#331d52"/>
<line x1="283.1" y1="238.47" x2="283.1" y2="239.71" stroke="#331d52" stroke-width="1.1"/>
<line x1="280.6" y1="238.47" x2="285.6" y2="238.47" stroke="#331d52" stroke-width="1.1"/>
<line x1="280.6" y1="239.71" x2="285.6" y2="239.71" stroke="#331d52" stroke-width="1.1"/>
<circle cx="283.1" cy="239.09" r="1.7" fill="#331d52"/>
<line x1="296.25" y1="233.85" x2="296.25" y2="237.55" stroke="#331d52" stroke-width="1.1"/>
<line x1="293.75" y1="233.85" x2="298.75" y2="233.85" stroke="#331d52" stroke-width="1.1"/>
<line x1="293.75" y1="237.55" x2="298.75" y2="237.55" stroke="#331d52" stroke-width="1.1"/>
<circle cx="296.25" cy="235.7" r="1.7" fill="#331d52"/>
<line x1="309.4" y1="222.44" x2="309.4" y2="234.16" stroke="#331d52" stroke-width="1.1"/>
<line x1="306.9" y1="222.44" x2="311.9" y2="222.44" stroke="#331d52" stroke-width="1.1"/>
<line x1="306.9" y1="234.16" x2="311.9" y2="234.16" stroke="#331d52" stroke-width="1.1"/>
<circle cx="309.4" cy="228.3" r="1.7" fill="#331d52"/>
<line x1="322.55" y1="207.02" x2="322.55" y2="222.44" stroke="#331d52" stroke-width="1.1"/>
<line x1="320.05" y1="207.02" x2="325.05" y2="207.02" stroke="#331d52" stroke-width="1.1"/>
<line x1="320.05" y1="222.44" x2="325.05" y2="222.44" stroke="#331d52" stroke-width="1.1"/>
<circle cx="322.55" cy="214.73" r="1.7" fill="#331d52"/>
<polyline points="204.2,243.1 217.35,242.17 230.5,238.47 243.65,234.77 256.8,232.31 269.95,225.37 283.1,213.65 296.25,195.3 309.4,184.5 322.55,170.01" fill="none" stroke="#7cba4c" stroke-width="1.9" stroke-linejoin="round"/>
<polygon points="204.2,240.96 202.22,244.53 206.18,244.53" fill="#7cba4c"/>
<line x1="217.35" y1="241.87" x2="217.35" y2="242.48" stroke="#7cba4c" stroke-width="1.1"/>
<line x1="214.85" y1="241.87" x2="219.85" y2="241.87" stroke="#7cba4c" stroke-width="1.1"/>
<line x1="214.85" y1="242.48" x2="219.85" y2="242.48" stroke="#7cba4c" stroke-width="1.1"/>
<polygon points="217.35,240.04 215.37,243.6 219.33,243.6" fill="#7cba4c"/>
<line x1="230.5" y1="237.55" x2="230.5" y2="239.4" stroke="#7cba4c" stroke-width="1.1"/>
<line x1="228" y1="237.55" x2="233" y2="237.55" stroke="#7cba4c" stroke-width="1.1"/>
<line x1="228" y1="239.4" x2="233" y2="239.4" stroke="#7cba4c" stroke-width="1.1"/>
<polygon points="230.5,236.34 228.52,239.9 232.48,239.9" fill="#7cba4c"/>
<line x1="243.65" y1="233.23" x2="243.65" y2="236.32" stroke="#7cba4c" stroke-width="1.1"/>
<line x1="241.15" y1="233.23" x2="246.15" y2="233.23" stroke="#7cba4c" stroke-width="1.1"/>
<line x1="241.15" y1="236.32" x2="246.15" y2="236.32" stroke="#7cba4c" stroke-width="1.1"/>
<polygon points="243.65,232.63 241.67,236.2 245.63,236.2" fill="#7cba4c"/>
<line x1="256.8" y1="230.46" x2="256.8" y2="234.16" stroke="#7cba4c" stroke-width="1.1"/>
<line x1="254.3" y1="230.46" x2="259.3" y2="230.46" stroke="#7cba4c" stroke-width="1.1"/>
<line x1="254.3" y1="234.16" x2="259.3" y2="234.16" stroke="#7cba4c" stroke-width="1.1"/>
<polygon points="256.8,230.17 254.82,233.73 258.78,233.73" fill="#7cba4c"/>
<line x1="269.95" y1="223.52" x2="269.95" y2="227.22" stroke="#7cba4c" stroke-width="1.1"/>
<line x1="267.45" y1="223.52" x2="272.45" y2="223.52" stroke="#7cba4c" stroke-width="1.1"/>
<line x1="267.45" y1="227.22" x2="272.45" y2="227.22" stroke="#7cba4c" stroke-width="1.1"/>
<polygon points="269.95,223.23 267.97,226.79 271.93,226.79" fill="#7cba4c"/>
<line x1="283.1" y1="206.86" x2="283.1" y2="220.43" stroke="#7cba4c" stroke-width="1.1"/>
<line x1="280.6" y1="206.86" x2="285.6" y2="206.86" stroke="#7cba4c" stroke-width="1.1"/>
<line x1="280.6" y1="220.43" x2="285.6" y2="220.43" stroke="#7cba4c" stroke-width="1.1"/>
<polygon points="283.1,211.51 281.12,215.07 285.08,215.07" fill="#7cba4c"/>
<line x1="296.25" y1="190.36" x2="296.25" y2="200.23" stroke="#7cba4c" stroke-width="1.1"/>
<line x1="293.75" y1="190.36" x2="298.75" y2="190.36" stroke="#7cba4c" stroke-width="1.1"/>
<line x1="293.75" y1="200.23" x2="298.75" y2="200.23" stroke="#7cba4c" stroke-width="1.1"/>
<polygon points="296.25,193.16 294.27,196.72 298.23,196.72" fill="#7cba4c"/>
<line x1="309.4" y1="175.87" x2="309.4" y2="193.14" stroke="#7cba4c" stroke-width="1.1"/>
<line x1="306.9" y1="175.87" x2="311.9" y2="175.87" stroke="#7cba4c" stroke-width="1.1"/>
<line x1="306.9" y1="193.14" x2="311.9" y2="193.14" stroke="#7cba4c" stroke-width="1.1"/>
<polygon points="309.4,182.37 307.42,185.93 311.38,185.93" fill="#7cba4c"/>
<line x1="322.55" y1="160.45" x2="322.55" y2="179.57" stroke="#7cba4c" stroke-width="1.1"/>
<line x1="320.05" y1="160.45" x2="325.05" y2="160.45" stroke="#7cba4c" stroke-width="1.1"/>
<line x1="320.05" y1="179.57" x2="325.05" y2="179.57" stroke="#7cba4c" stroke-width="1.1"/>
<polygon points="322.55,167.87 320.57,171.43 324.53,171.43" fill="#7cba4c"/>
<line x1="224.1" y1="164.9" x2="234.2" y2="164.9" stroke="#331d52" stroke-width="1.6"/>
<circle cx="229.15" cy="164.9" r="1.9" fill="#331d52"/>
<text x="237.2" y="167.5" font-size="8.1" text-anchor="start" fill="#2a2a2a" stroke="#2a2a2a" stroke-width="0.22" textLength="11.6" lengthAdjust="spacingAndGlyphs">NC</text>
<line x1="224.1" y1="174.2" x2="234.2" y2="174.2" stroke="#a8123a" stroke-width="1.6"/>
<circle cx="229.15" cy="174.2" r="1.9" fill="#a8123a"/>
<text x="237.2" y="176.8" font-size="8.1" text-anchor="start" fill="#2a2a2a" stroke="#2a2a2a" stroke-width="0.22" textLength="17.1" lengthAdjust="spacingAndGlyphs">shP2</text>
<line x1="224.1" y1="183.1" x2="234.2" y2="183.1" stroke="#7cba4c" stroke-width="1.6"/>
<polygon points="229.15,180.64 226.87,184.74 231.43,184.74" fill="#7cba4c"/>
<text x="237.2" y="185.7" font-size="8.1" text-anchor="start" fill="#2a2a2a" stroke="#2a2a2a" stroke-width="0.22" textLength="13.3" lengthAdjust="spacingAndGlyphs">shC</text>
<circle cx="227.9" cy="234.5" r="1.2" fill="#1a1a1a"/>
<circle cx="231" cy="234.5" r="1.2" fill="#1a1a1a"/>
<circle cx="234.1" cy="234.5" r="1.2" fill="#1a1a1a"/>
<circle cx="241.2" cy="230.2" r="1.2" fill="#1a1a1a"/>
<circle cx="244.3" cy="230.2" r="1.2" fill="#1a1a1a"/>
<circle cx="247.4" cy="230.2" r="1.2" fill="#1a1a1a"/>
<circle cx="254.2" cy="227" r="1.2" fill="#1a1a1a"/>
<circle cx="257.3" cy="227" r="1.2" fill="#1a1a1a"/>
<circle cx="260.4" cy="227" r="1.2" fill="#1a1a1a"/>
<circle cx="267.2" cy="220.2" r="1.2" fill="#1a1a1a"/>
<circle cx="270.3" cy="220.2" r="1.2" fill="#1a1a1a"/>
<circle cx="273.4" cy="220.2" r="1.2" fill="#1a1a1a"/>
<circle cx="280.2" cy="204.7" r="1.2" fill="#1a1a1a"/>
<circle cx="283.3" cy="204.7" r="1.2" fill="#1a1a1a"/>
<circle cx="286.4" cy="204.7" r="1.2" fill="#1a1a1a"/>
<circle cx="293.3" cy="186.4" r="1.2" fill="#1a1a1a"/>
<circle cx="296.4" cy="186.4" r="1.2" fill="#1a1a1a"/>
<circle cx="299.5" cy="186.4" r="1.2" fill="#1a1a1a"/>
<circle cx="306.6" cy="172.6" r="1.2" fill="#1a1a1a"/>
<circle cx="309.7" cy="172.6" r="1.2" fill="#1a1a1a"/>
<circle cx="312.8" cy="172.6" r="1.2" fill="#1a1a1a"/>
<circle cx="319.6" cy="157.5" r="1.2" fill="#1a1a1a"/>
<circle cx="322.7" cy="157.5" r="1.2" fill="#1a1a1a"/>
<circle cx="325.8" cy="157.5" r="1.2" fill="#1a1a1a"/>
<circle cx="253.9" cy="238.4" r="1.2" fill="#1a1a1a"/>
<circle cx="257" cy="238.4" r="1.2" fill="#1a1a1a"/>
<circle cx="260.1" cy="238.4" r="1.2" fill="#1a1a1a"/>
<circle cx="266.9" cy="238.4" r="1.2" fill="#1a1a1a"/>
<circle cx="270" cy="238.4" r="1.2" fill="#1a1a1a"/>
<circle cx="273.1" cy="238.4" r="1.2" fill="#1a1a1a"/>
<circle cx="284.9" cy="239.3" r="1.2" fill="#1a1a1a"/>
<circle cx="288" cy="239.3" r="1.2" fill="#1a1a1a"/>
<circle cx="291.1" cy="239.3" r="1.2" fill="#1a1a1a"/>
<circle cx="297.4" cy="240.4" r="1.2" fill="#1a1a1a"/>
<circle cx="300.5" cy="240.4" r="1.2" fill="#1a1a1a"/>
<circle cx="303.6" cy="240.4" r="1.2" fill="#1a1a1a"/>
<circle cx="309.6" cy="239.2" r="1.2" fill="#1a1a1a"/>
<circle cx="312.7" cy="239.2" r="1.2" fill="#1a1a1a"/>
<circle cx="315.8" cy="239.2" r="1.2" fill="#1a1a1a"/>
<circle cx="322.9" cy="238.2" r="1.2" fill="#1a1a1a"/>
<circle cx="326" cy="238.2" r="1.2" fill="#1a1a1a"/>
<circle cx="329.1" cy="238.2" r="1.2" fill="#1a1a1a"/>
<text transform="translate(346 153) scale(0.7909 1)" x="0" y="0" font-size="11.4" font-weight="bold" fill="#0a0a0a" stroke="#0a0a0a" stroke-width="0.35">F</text>
<line x1="375.8" y1="154.6" x2="375.8" y2="243.8" stroke="#1a1a1a" stroke-width="1.4"/>
<line x1="372.8" y1="243.1" x2="375.8" y2="243.1" stroke="#1a1a1a" stroke-width="1.1"/>
<text x="370.2" y="246.07" font-size="8.3" text-anchor="end" fill="#333" stroke="#333" stroke-width="0.08">0.0</text>
<line x1="372.8" y1="221.67" x2="375.8" y2="221.67" stroke="#1a1a1a" stroke-width="1.1"/>
<text x="370.2" y="224.65" font-size="8.3" text-anchor="end" fill="#333" stroke="#333" stroke-width="0.08">0.5</text>
<line x1="372.8" y1="200.25" x2="375.8" y2="200.25" stroke="#1a1a1a" stroke-width="1.1"/>
<text x="370.2" y="203.22" font-size="8.3" text-anchor="end" fill="#333" stroke="#333" stroke-width="0.08">1.0</text>
<line x1="372.8" y1="178.82" x2="375.8" y2="178.82" stroke="#1a1a1a" stroke-width="1.1"/>
<text x="370.2" y="181.8" font-size="8.3" text-anchor="end" fill="#333" stroke="#333" stroke-width="0.08">1.5</text>
<line x1="372.8" y1="157.4" x2="375.8" y2="157.4" stroke="#1a1a1a" stroke-width="1.1"/>
<text x="370.2" y="160.37" font-size="8.3" text-anchor="end" fill="#333" stroke="#333" stroke-width="0.08">2.0</text>
<line x1="375.1" y1="243.2" x2="506.9" y2="243.2" stroke="#1a1a1a" stroke-width="1.4"/>
<line x1="398.2" y1="243.2" x2="398.2" y2="246.2" stroke="#1a1a1a" stroke-width="1.1"/>
<line x1="441.2" y1="243.2" x2="441.2" y2="246.2" stroke="#1a1a1a" stroke-width="1.1"/>
<line x1="484.6" y1="243.2" x2="484.6" y2="246.2" stroke="#1a1a1a" stroke-width="1.1"/>
<text x="392.1" y="256.6" font-size="8.2" text-anchor="start" fill="#2a2a2a" stroke="#2a2a2a" stroke-width="0.22" textLength="12.1" lengthAdjust="spacingAndGlyphs">NC</text>
<text x="432" y="256.6" font-size="8.2" text-anchor="start" fill="#2a2a2a" stroke="#2a2a2a" stroke-width="0.22" textLength="18.6" lengthAdjust="spacingAndGlyphs">shP2</text>
<text x="477" y="256.6" font-size="8.2" text-anchor="start" fill="#2a2a2a" stroke="#2a2a2a" stroke-width="0.22" textLength="14.5" lengthAdjust="spacingAndGlyphs">shC</text>
<g transform="translate(354.2 196.3) rotate(-90) scale(0.7066 1)"><text x="0" y="0" font-size="10.2" text-anchor="middle" fill="#303030" stroke="#303030" stroke-width="0.06">Tumor weight (g)</text></g>
<line x1="383" y1="231" x2="413.7" y2="231" stroke="#4a2a70" stroke-width="1.4"/>
<line x1="398.2" y1="224" x2="398.2" y2="238" stroke="#4a2a70" stroke-width="1.1"/>
<polygon points="392.7,222.08 390.55,225.95 394.85,225.95" fill="#4a2a70"/>
<circle cx="397.9" cy="226.1" r="2" fill="#4a2a70"/>
<circle cx="403.6" cy="225" r="2" fill="#4a2a70"/>
<polygon points="392.7,231.88 390.55,235.75 394.85,235.75" fill="#4a2a70"/>
<circle cx="397.9" cy="233.6" r="2" fill="#4a2a70"/>
<polygon points="403.6,231.88 401.45,235.75 405.75,235.75" fill="#4a2a70"/>
<circle cx="408.8" cy="233" r="2" fill="#4a2a70"/>
<polygon points="397.9,235.38 395.75,239.25 400.05,239.25" fill="#4a2a70"/>
<line x1="426.3" y1="239.7" x2="456.3" y2="239.7" stroke="#b01238" stroke-width="1.5"/>
<circle cx="429.5" cy="239.1" r="1.8" fill="#b01238"/>
<circle cx="432.8" cy="240.3" r="1.8" fill="#b01238"/>
<circle cx="436.1" cy="239.1" r="1.8" fill="#b01238"/>
<circle cx="439.4" cy="240.3" r="1.8" fill="#b01238"/>
<circle cx="442.7" cy="239.1" r="1.8" fill="#b01238"/>
<circle cx="446" cy="240.3" r="1.8" fill="#b01238"/>
<circle cx="449.3" cy="239.1" r="1.8" fill="#b01238"/>
<circle cx="452.6" cy="240.3" r="1.8" fill="#b01238"/>
<circle cx="455.9" cy="239.1" r="1.8" fill="#b01238"/>
<circle cx="438.1" cy="233.7" r="1.2" fill="#1a1a1a"/>
<circle cx="441.2" cy="233.7" r="1.2" fill="#1a1a1a"/>
<circle cx="444.3" cy="233.7" r="1.2" fill="#1a1a1a"/>
<line x1="469.4" y1="185.7" x2="499.7" y2="185.7" stroke="#7cba4c" stroke-width="1.2"/>
<line x1="476.8" y1="166.3" x2="492.4" y2="166.3" stroke="#7cba4c" stroke-width="1.2"/>
<line x1="476.8" y1="204.6" x2="492.4" y2="204.6" stroke="#7cba4c" stroke-width="1.2"/>
<line x1="484.6" y1="166.3" x2="484.6" y2="204.6" stroke="#7cba4c" stroke-width="1"/>
<polygon points="479.7,168.18 477.55,172.05 481.85,172.05" fill="#7cba4c"/>
<polygon points="484.6,166.68 482.45,170.55 486.75,170.55" fill="#7cba4c"/>
<polygon points="490.8,164.88 488.65,168.75 492.95,168.75" fill="#7cba4c"/>
<polygon points="490,183.98 487.85,187.85 492.15,187.85" fill="#7cba4c"/>
<polygon points="484.6,188.88 482.45,192.75 486.75,192.75" fill="#7cba4c"/>
<polygon points="484.6,205.68 482.45,209.55 486.75,209.55" fill="#7cba4c"/>
<polygon points="484.6,216.68 482.45,220.55 486.75,220.55" fill="#7cba4c"/>
<polygon points="484.6,177.68 482.45,181.55 486.75,181.55" fill="#7cba4c"/>
<circle cx="481.7" cy="162.3" r="1.2" fill="#1a1a1a"/>
<circle cx="484.8" cy="162.3" r="1.2" fill="#1a1a1a"/>
<circle cx="487.9" cy="162.3" r="1.2" fill="#1a1a1a"/>
<text transform="translate(7.8 286.6) scale(0.8997 1)" x="0" y="0" font-size="11.4" font-weight="bold" fill="#0a0a0a" stroke="#0a0a0a" stroke-width="0.35">G</text>
<line x1="48.7" y1="290.8" x2="48.7" y2="379.3" stroke="#1a1a1a" stroke-width="1.4"/>
<line x1="45.7" y1="378.6" x2="48.7" y2="378.6" stroke="#1a1a1a" stroke-width="1.1"/>
<text x="43.5" y="381.64" font-size="8.5" text-anchor="end" fill="#333" stroke="#333" stroke-width="0.08">0</text>
<line x1="45.7" y1="361.33" x2="48.7" y2="361.33" stroke="#1a1a1a" stroke-width="1.1"/>
<text x="43.5" y="364.37" font-size="8.5" text-anchor="end" fill="#333" stroke="#333" stroke-width="0.08">10</text>
<line x1="45.7" y1="344.06" x2="48.7" y2="344.06" stroke="#1a1a1a" stroke-width="1.1"/>
<text x="43.5" y="347.1" font-size="8.5" text-anchor="end" fill="#333" stroke="#333" stroke-width="0.08">20</text>
<line x1="45.7" y1="326.79" x2="48.7" y2="326.79" stroke="#1a1a1a" stroke-width="1.1"/>
<text x="43.5" y="329.83" font-size="8.5" text-anchor="end" fill="#333" stroke="#333" stroke-width="0.08">30</text>
<line x1="45.7" y1="309.52" x2="48.7" y2="309.52" stroke="#1a1a1a" stroke-width="1.1"/>
<text x="43.5" y="312.56" font-size="8.5" text-anchor="end" fill="#333" stroke="#333" stroke-width="0.08">40</text>
<line x1="45.7" y1="292.25" x2="48.7" y2="292.25" stroke="#1a1a1a" stroke-width="1.1"/>
<text x="43.5" y="295.29" font-size="8.5" text-anchor="end" fill="#333" stroke="#333" stroke-width="0.08">50</text>
<line x1="48" y1="378.7" x2="181" y2="378.7" stroke="#1a1a1a" stroke-width="1.4"/>
<line x1="61.7" y1="378.7" x2="61.7" y2="381.7" stroke="#1a1a1a" stroke-width="1.1"/>
<line x1="87.9" y1="378.7" x2="87.9" y2="381.7" stroke="#1a1a1a" stroke-width="1.1"/>
<line x1="114" y1="378.7" x2="114" y2="381.7" stroke="#1a1a1a" stroke-width="1.1"/>
<line x1="140.1" y1="378.7" x2="140.1" y2="381.7" stroke="#1a1a1a" stroke-width="1.1"/>
<line x1="166.2" y1="378.7" x2="166.2" y2="381.7" stroke="#1a1a1a" stroke-width="1.1"/>
<text x="61.7" y="391.6" font-size="8.7" text-anchor="middle" fill="#333" stroke="#333" stroke-width="0.08" textLength="9.3" lengthAdjust="spacingAndGlyphs">d1</text>
<text x="87.9" y="391.6" font-size="8.7" text-anchor="middle" fill="#333" stroke="#333" stroke-width="0.08" textLength="9.3" lengthAdjust="spacingAndGlyphs">d2</text>
<text x="114" y="391.6" font-size="8.7" text-anchor="middle" fill="#333" stroke="#333" stroke-width="0.08" textLength="9.3" lengthAdjust="spacingAndGlyphs">d3</text>
<text x="140.1" y="391.6" font-size="8.7" text-anchor="middle" fill="#333" stroke="#333" stroke-width="0.08" textLength="9.3" lengthAdjust="spacingAndGlyphs">d4</text>
<text x="166.2" y="391.6" font-size="8.7" text-anchor="middle" fill="#333" stroke="#333" stroke-width="0.08" textLength="9.3" lengthAdjust="spacingAndGlyphs">d5</text>
<g transform="translate(28.6 334.6) rotate(-90) scale(0.7209 1)"><text x="0" y="0" font-size="10.6" text-anchor="middle" fill="#303030" stroke="#303030" stroke-width="0.06">Relative cell amount</text></g>
<polyline points="61.7,375.49 87.9,371.69 114,372.04 140.1,355.29 166.2,330.24" fill="none" stroke="#3d2463" stroke-width="1.7" stroke-linejoin="round"/>
<circle cx="61.7" cy="375.49" r="1.8" fill="#3d2463"/>
<line x1="87.9" y1="371.17" x2="87.9" y2="372.21" stroke="#3d2463" stroke-width="1.1"/>
<line x1="85.4" y1="371.17" x2="90.4" y2="371.17" stroke="#3d2463" stroke-width="1.1"/>
<line x1="85.4" y1="372.21" x2="90.4" y2="372.21" stroke="#3d2463" stroke-width="1.1"/>
<circle cx="87.9" cy="371.69" r="1.8" fill="#3d2463"/>
<line x1="114" y1="371.17" x2="114" y2="372.9" stroke="#3d2463" stroke-width="1.1"/>
<line x1="111.5" y1="371.17" x2="116.5" y2="371.17" stroke="#3d2463" stroke-width="1.1"/>
<line x1="111.5" y1="372.9" x2="116.5" y2="372.9" stroke="#3d2463" stroke-width="1.1"/>
<circle cx="114" cy="372.04" r="1.8" fill="#3d2463"/>
<line x1="140.1" y1="353.9" x2="140.1" y2="356.67" stroke="#3d2463" stroke-width="1.1"/>
<line x1="137.6" y1="353.9" x2="142.6" y2="353.9" stroke="#3d2463" stroke-width="1.1"/>
<line x1="137.6" y1="356.67" x2="142.6" y2="356.67" stroke="#3d2463" stroke-width="1.1"/>
<circle cx="140.1" cy="355.29" r="1.8" fill="#3d2463"/>
<line x1="166.2" y1="327.65" x2="166.2" y2="332.83" stroke="#3d2463" stroke-width="1.1"/>
<line x1="163.7" y1="327.65" x2="168.7" y2="327.65" stroke="#3d2463" stroke-width="1.1"/>
<line x1="163.7" y1="332.83" x2="168.7" y2="332.83" stroke="#3d2463" stroke-width="1.1"/>
<circle cx="166.2" cy="330.24" r="1.8" fill="#3d2463"/>
<polyline points="61.7,375.49 87.9,370.31 114,367.37 140.1,350.97 166.2,325.06" fill="none" stroke="#6aaa48" stroke-width="1.7" stroke-linejoin="round"/>
<polygon points="61.7,373.35 59.72,376.92 63.68,376.92" fill="#6aaa48"/>
<line x1="87.9" y1="369.79" x2="87.9" y2="370.83" stroke="#6aaa48" stroke-width="1.1"/>
<line x1="85.4" y1="369.79" x2="90.4" y2="369.79" stroke="#6aaa48" stroke-width="1.1"/>
<line x1="85.4" y1="370.83" x2="90.4" y2="370.83" stroke="#6aaa48" stroke-width="1.1"/>
<polygon points="87.9,368.17 85.92,371.74 89.88,371.74" fill="#6aaa48"/>
<line x1="114" y1="366.51" x2="114" y2="368.24" stroke="#6aaa48" stroke-width="1.1"/>
<line x1="111.5" y1="366.51" x2="116.5" y2="366.51" stroke="#6aaa48" stroke-width="1.1"/>
<line x1="111.5" y1="368.24" x2="116.5" y2="368.24" stroke="#6aaa48" stroke-width="1.1"/>
<polygon points="114,365.24 112.02,368.8 115.98,368.8" fill="#6aaa48"/>
<line x1="140.1" y1="349.24" x2="140.1" y2="352.7" stroke="#6aaa48" stroke-width="1.1"/>
<line x1="137.6" y1="349.24" x2="142.6" y2="349.24" stroke="#6aaa48" stroke-width="1.1"/>
<line x1="137.6" y1="352.7" x2="142.6" y2="352.7" stroke="#6aaa48" stroke-width="1.1"/>
<polygon points="140.1,348.83 138.12,352.39 142.08,352.39" fill="#6aaa48"/>
<line x1="166.2" y1="321.95" x2="166.2" y2="328.17" stroke="#6aaa48" stroke-width="1.1"/>
<line x1="163.7" y1="321.95" x2="168.7" y2="321.95" stroke="#6aaa48" stroke-width="1.1"/>
<line x1="163.7" y1="328.17" x2="168.7" y2="328.17" stroke="#6aaa48" stroke-width="1.1"/>
<polygon points="166.2,322.92 164.22,326.49 168.18,326.49" fill="#6aaa48"/>
<polyline points="61.7,375.49 87.9,370.83 114,367.72 140.1,344.58 166.2,310.73" fill="none" stroke="#e39a26" stroke-width="1.7" stroke-linejoin="round"/>
<rect x="60.08" y="373.87" width="3.24" height="3.24" fill="#e39a26" stroke="none" stroke-width="1"/>
<line x1="87.9" y1="370.31" x2="87.9" y2="371.35" stroke="#e39a26" stroke-width="1.1"/>
<line x1="85.4" y1="370.31" x2="90.4" y2="370.31" stroke="#e39a26" stroke-width="1.1"/>
<line x1="85.4" y1="371.35" x2="90.4" y2="371.35" stroke="#e39a26" stroke-width="1.1"/>
<rect x="86.28" y="369.21" width="3.24" height="3.24" fill="#e39a26" stroke="none" stroke-width="1"/>
<line x1="114" y1="366.86" x2="114" y2="368.58" stroke="#e39a26" stroke-width="1.1"/>
<line x1="111.5" y1="366.86" x2="116.5" y2="366.86" stroke="#e39a26" stroke-width="1.1"/>
<line x1="111.5" y1="368.58" x2="116.5" y2="368.58" stroke="#e39a26" stroke-width="1.1"/>
<rect x="112.38" y="366.1" width="3.24" height="3.24" fill="#e39a26" stroke="none" stroke-width="1"/>
<line x1="140.1" y1="341.99" x2="140.1" y2="347.17" stroke="#e39a26" stroke-width="1.1"/>
<line x1="137.6" y1="341.99" x2="142.6" y2="341.99" stroke="#e39a26" stroke-width="1.1"/>
<line x1="137.6" y1="347.17" x2="142.6" y2="347.17" stroke="#e39a26" stroke-width="1.1"/>
<rect x="138.48" y="342.96" width="3.24" height="3.24" fill="#e39a26" stroke="none" stroke-width="1"/>
<line x1="166.2" y1="307.27" x2="166.2" y2="314.18" stroke="#e39a26" stroke-width="1.1"/>
<line x1="163.7" y1="307.27" x2="168.7" y2="307.27" stroke="#e39a26" stroke-width="1.1"/>
<line x1="163.7" y1="314.18" x2="168.7" y2="314.18" stroke="#e39a26" stroke-width="1.1"/>
<rect x="164.58" y="309.11" width="3.24" height="3.24" fill="#e39a26" stroke="none" stroke-width="1"/>
<circle cx="166.1" cy="303.5" r="1.2" fill="#1a1a1a"/>
<circle cx="140.1" cy="337.5" r="1.2" fill="#1a1a1a"/>
<circle cx="105.4" cy="363.2" r="1.2" fill="#1a1a1a"/>
<circle cx="108.5" cy="363.2" r="1.2" fill="#1a1a1a"/>
<circle cx="111.6" cy="363.2" r="1.2" fill="#1a1a1a"/>
<circle cx="105.9" cy="370.8" r="1.2" fill="#5a4a7a"/>
<circle cx="109" cy="370.8" r="1.2" fill="#5a4a7a"/>
<circle cx="112.1" cy="370.8" r="1.2" fill="#5a4a7a"/>
<line x1="180.1" y1="295.5" x2="190.9" y2="295.5" stroke="#3d2463" stroke-width="1.6"/>
<circle cx="185.5" cy="295.5" r="1.9" fill="#3d2463"/>
<text x="193.5" y="298.1" font-size="8.2" text-anchor="start" fill="#2a2a2a" stroke="#2a2a2a" stroke-width="0.22" textLength="25" lengthAdjust="spacingAndGlyphs">Vehicle</text>
<line x1="180.1" y1="304.5" x2="190.9" y2="304.5" stroke="#e39a26" stroke-width="1.6"/>
<rect x="183.6" y="302.6" width="3.8" height="3.8" fill="#e39a26" stroke="none" stroke-width="1"/>
<text x="193.5" y="307.1" font-size="8.2" text-anchor="start" fill="#2a2a2a" stroke="#2a2a2a" stroke-width="0.22" textLength="9.2" lengthAdjust="spacingAndGlyphs">P4</text>
<line x1="180.1" y1="313.6" x2="190.9" y2="313.6" stroke="#6aaa48" stroke-width="1.6"/>
<polygon points="185.5,311.14 183.22,315.24 187.78,315.24" fill="#6aaa48"/>
<text x="193.5" y="316.2" font-size="8.2" text-anchor="start" fill="#2a2a2a" stroke="#2a2a2a" stroke-width="0.22" textLength="18.8" lengthAdjust="spacingAndGlyphs">P4-M</text>
<text x="56.2" y="322.9" font-size="7.7" text-anchor="start" fill="#2a2a2a" stroke="#2a2a2a" stroke-width="0.22" textLength="24.4" lengthAdjust="spacingAndGlyphs">P4HA2</text>
<text x="53.9" y="331.8" font-size="7.7" text-anchor="start" fill="#2a2a2a" stroke="#2a2a2a" stroke-width="0.22" textLength="26.6" lengthAdjust="spacingAndGlyphs">Carabin</text>
<text x="53.4" y="340.6" font-size="7.7" text-anchor="start" fill="#2a2a2a" stroke="#2a2a2a" stroke-width="0.22" textLength="27.2" lengthAdjust="spacingAndGlyphs">GAPDH</text>
<g transform="translate(88.2 314.2) rotate(-42)"><text x="0" y="0" font-size="7.4" fill="#2a2a2a" textLength="25.5" lengthAdjust="spacingAndGlyphs">Vehicle</text></g>
<g transform="translate(103.2 315.0) rotate(-42)"><text x="0" y="0" font-size="7.4" fill="#2a2a2a" textLength="9" lengthAdjust="spacingAndGlyphs">P4</text></g>
<g transform="translate(115.3 315.2) rotate(-42)"><text x="0" y="0" font-size="7.4" fill="#2a2a2a" textLength="20" lengthAdjust="spacingAndGlyphs">P4-M</text></g>
<rect x="83.5" y="317.1" width="39.2" height="6.3" fill="#fff" stroke="#111" stroke-width="1.2"/>
<rect x="85.8" y="320.3" width="8.8" height="1.1" fill="#777" stroke="none" stroke-width="1"/>
<rect x="96.8" y="317.9" width="25" height="4.9" fill="#101010" stroke="none" stroke-width="1"/>
<rect x="108.7" y="318.6" width="1.2" height="3.9" fill="#d8d8d8" stroke="none" stroke-width="1"/>
<rect x="83.5" y="326.2" width="39.2" height="5.6" fill="#4a4a4a" stroke="#111" stroke-width="1.2"/>
<rect x="85" y="328.3" width="11" height="1.3" fill="#2a2a2a" stroke="none" stroke-width="1"/>
<rect x="97.5" y="328.6" width="11" height="1" fill="#3a3a3a" stroke="none" stroke-width="1"/>
<rect x="110" y="328.3" width="11" height="1.3" fill="#2a2a2a" stroke="none" stroke-width="1"/>
<rect x="83.5" y="334.8" width="39.2" height="6.2" fill="#fff" stroke="#111" stroke-width="1.2"/>
<rect x="85.8" y="337.2" width="9.3" height="2" fill="#151515" stroke="none" stroke-width="1" rx="0.8"/>
<rect x="98.2" y="337.2" width="9.4" height="2" fill="#151515" stroke="none" stroke-width="1" rx="0.8"/>
<rect x="110.7" y="337.2" width="9.9" height="2" fill="#151515" stroke="none" stroke-width="1" rx="0.8"/>
<text transform="translate(234.7 286.5) scale(0.8650 1)" x="0" y="0" font-size="11.4" font-weight="bold" fill="#0a0a0a" stroke="#0a0a0a" stroke-width="0.35">H</text>
<text x="258.8" y="310.2" font-size="8" text-anchor="start" fill="#2a2a2a" stroke="#2a2a2a" stroke-width="0.22" textLength="26.2" lengthAdjust="spacingAndGlyphs">Vehicle</text>
<text x="299.6" y="310.2" font-size="8" text-anchor="start" fill="#2a2a2a" stroke="#2a2a2a" stroke-width="0.22" textLength="9.3" lengthAdjust="spacingAndGlyphs">P4</text>
<text x="326.6" y="310.2" font-size="8" text-anchor="start" fill="#2a2a2a" stroke="#2a2a2a" stroke-width="0.22" textLength="20" lengthAdjust="spacingAndGlyphs">P4-M</text>
<line x1="259.7" y1="313.2" x2="283.8" y2="313.2" stroke="#111" stroke-width="1.1"/>
<line x1="292.3" y1="313.2" x2="315.4" y2="313.2" stroke="#111" stroke-width="1.1"/>
<line x1="325.4" y1="313.2" x2="347.7" y2="313.2" stroke="#111" stroke-width="1.1"/>
<text x="233.7" y="321.2" font-size="7.8" text-anchor="start" fill="#2a2a2a" stroke="#2a2a2a" stroke-width="0.22" textLength="18.6" lengthAdjust="spacingAndGlyphs">PMA</text>
<rect x="263" y="318.6" width="2.4" height="0.9" fill="#333" stroke="none" stroke-width="1"/>
<rect x="277.3" y="318.2" width="3.8" height="0.9" fill="#333" stroke="none" stroke-width="1"/>
<rect x="278.75" y="316.3" width="0.9" height="4" fill="#333" stroke="none" stroke-width="1"/>
<rect x="294.6" y="318.6" width="2.4" height="0.9" fill="#333" stroke="none" stroke-width="1"/>
<rect x="309.6" y="318.2" width="3.8" height="0.9" fill="#333" stroke="none" stroke-width="1"/>
<rect x="311.05" y="316.3" width="0.9" height="4" fill="#333" stroke="none" stroke-width="1"/>
<rect x="327.3" y="318.6" width="2.4" height="0.9" fill="#333" stroke="none" stroke-width="1"/>
<rect x="341.9" y="318.2" width="3.8" height="0.9" fill="#333" stroke="none" stroke-width="1"/>
<rect x="343.35" y="316.3" width="0.9" height="4" fill="#333" stroke="none" stroke-width="1"/>
<text x="234.5" y="332.3" font-size="7.8" text-anchor="start" fill="#2a2a2a" stroke="#2a2a2a" stroke-width="0.22" textLength="17.8" lengthAdjust="spacingAndGlyphs">pErk</text>
<text x="240.1" y="349" font-size="7.8" text-anchor="start" fill="#2a2a2a" stroke="#2a2a2a" stroke-width="0.22" textLength="12.2" lengthAdjust="spacingAndGlyphs">Erk</text>
<rect x="255.4" y="322.9" width="95.8" height="13" fill="#fff" stroke="#111" stroke-width="1.2"/>
<rect x="255.4" y="339.4" width="95.8" height="13.8" fill="#fff" stroke="#111" stroke-width="1.2"/>
<g filter="url(#blur1)">
<rect x="274.2" y="326.9" width="10.5" height="0.9" fill="#9a9a9a" stroke="none" stroke-width="1" rx="0.5"/>
<rect x="273.2" y="330.3" width="12.5" height="3.4" fill="#111" stroke="none" stroke-width="1" rx="1.7"/>
<rect x="306.3" y="326.2" width="11.2" height="2.4" fill="#222" stroke="none" stroke-width="1" rx="1.2"/>
<rect x="305" y="329.8" width="13.4" height="4.9" fill="#0a0a0a" stroke="none" stroke-width="1" rx="2.4"/>
<rect x="339.5" y="327" width="9.5" height="0.9" fill="#bbb" stroke="none" stroke-width="1" rx="0.5"/>
<rect x="338.6" y="330.7" width="10.6" height="3" fill="#111" stroke="none" stroke-width="1" rx="1.5"/>
<rect x="257.4" y="342.3" width="13.4" height="1.1" fill="#b5b5b5" stroke="none" stroke-width="1" rx="0.5"/>
<rect x="256.9" y="344.9" width="14.4" height="5.8" fill="#0c0c0c" stroke="none" stroke-width="1" rx="4" ry="2.9"/>
<rect x="272.8" y="342.3" width="16.3" height="1.1" fill="#b5b5b5" stroke="none" stroke-width="1" rx="0.5"/>
<rect x="272.3" y="344.9" width="17.3" height="5.8" fill="#0c0c0c" stroke="none" stroke-width="1" rx="4" ry="2.9"/>
<rect x="291" y="342.3" width="13.5" height="1.1" fill="#b5b5b5" stroke="none" stroke-width="1" rx="0.5"/>
<rect x="290.5" y="344.9" width="14.5" height="5.8" fill="#0c0c0c" stroke="none" stroke-width="1" rx="4" ry="2.9"/>
<rect x="306.5" y="342.3" width="14.3" height="1.1" fill="#b5b5b5" stroke="none" stroke-width="1" rx="0.5"/>
<rect x="306" y="344.9" width="15.3" height="5.8" fill="#0c0c0c" stroke="none" stroke-width="1" rx="4" ry="2.9"/>
<rect x="322.8" y="342.3" width="12.4" height="1.1" fill="#b5b5b5" stroke="none" stroke-width="1" rx="0.5"/>
<rect x="322.3" y="344.9" width="13.4" height="5.8" fill="#0c0c0c" stroke="none" stroke-width="1" rx="4" ry="2.9"/>
<rect x="337.2" y="342.3" width="11.5" height="1.1" fill="#b5b5b5" stroke="none" stroke-width="1" rx="0.5"/>
<rect x="336.7" y="344.9" width="12.5" height="5.8" fill="#0c0c0c" stroke="none" stroke-width="1" rx="4" ry="2.9"/>
</g>
<text transform="translate(367.7 286.1) scale(0.7519 1)" x="0" y="0" font-size="11.4" font-weight="bold" fill="#0a0a0a" stroke="#0a0a0a" stroke-width="0.35">I</text>
<text x="380" y="316.8" font-size="8" text-anchor="middle" fill="#2a2a2a" stroke="#2a2a2a" stroke-width="0.22" textLength="26.6" lengthAdjust="spacingAndGlyphs">Vehicle</text>
<text x="379.8" y="331.4" font-size="8" text-anchor="middle" fill="#2a2a2a" stroke="#2a2a2a" stroke-width="0.22" textLength="9.2" lengthAdjust="spacingAndGlyphs">P4</text>
<text x="379.9" y="346.7" font-size="8" text-anchor="middle" fill="#2a2a2a" stroke="#2a2a2a" stroke-width="0.22" textLength="19.8" lengthAdjust="spacingAndGlyphs">P4-M</text>
<rect x="396.3" y="306.5" width="99.5" height="42.7" fill="url(#gBlueI)" stroke="none" stroke-width="1"/>
<rect x="396.3" y="306.5" width="6" height="42.7" fill="#7ab6e6" stroke="none" stroke-width="1"/>
<line x1="402.2" y1="307" x2="402.2" y2="349" stroke="#4a86c0" stroke-width="0.8"/>
<line x1="397.5" y1="309" x2="400.2" y2="309" stroke="#3a6a9a" stroke-width="0.45"/>
<line x1="397.5" y1="312" x2="400.2" y2="312" stroke="#3a6a9a" stroke-width="0.45"/>
<line x1="397.5" y1="315" x2="400.2" y2="315" stroke="#3a6a9a" stroke-width="0.45"/>
<line x1="397.5" y1="318" x2="400.2" y2="318" stroke="#3a6a9a" stroke-width="0.45"/>
<line x1="397.5" y1="321" x2="400.2" y2="321" stroke="#3a6a9a" stroke-width="0.45"/>
<line x1="397.5" y1="324" x2="400.2" y2="324" stroke="#3a6a9a" stroke-width="0.45"/>
<line x1="397.5" y1="327" x2="400.2" y2="327" stroke="#3a6a9a" stroke-width="0.45"/>
<line x1="397.5" y1="330" x2="400.2" y2="330" stroke="#3a6a9a" stroke-width="0.45"/>
<line x1="397.5" y1="333" x2="400.2" y2="333" stroke="#3a6a9a" stroke-width="0.45"/>
<line x1="397.5" y1="336" x2="400.2" y2="336" stroke="#3a6a9a" stroke-width="0.45"/>
<line x1="397.5" y1="339" x2="400.2" y2="339" stroke="#3a6a9a" stroke-width="0.45"/>
<line x1="397.5" y1="342" x2="400.2" y2="342" stroke="#3a6a9a" stroke-width="0.45"/>
<line x1="397.5" y1="345" x2="400.2" y2="345" stroke="#3a6a9a" stroke-width="0.45"/>
<line x1="397.5" y1="348" x2="400.2" y2="348" stroke="#3a6a9a" stroke-width="0.45"/>
<ellipse cx="410.1" cy="312.7" rx="4.2" ry="3.9" fill="url(#gTumI1)"/>
<ellipse cx="410.1" cy="328" rx="4.8" ry="4.7" fill="url(#gTumI2)"/>
<ellipse cx="410.1" cy="343.4" rx="4" ry="4" fill="url(#gTumI2)"/>
<ellipse cx="422.8" cy="312.7" rx="4" ry="3.8" fill="url(#gTumI1)"/>
<ellipse cx="422.8" cy="328" rx="4.8" ry="4.8" fill="url(#gTumI2)"/>
<ellipse cx="422.8" cy="343.4" rx="3.7" ry="3.6" fill="url(#gTumI2)"/>
<ellipse cx="434.8" cy="312.7" rx="4" ry="4" fill="url(#gTumI1)"/>
<ellipse cx="434.8" cy="328" rx="4.6" ry="4.6" fill="url(#gTumI2)"/>
<ellipse cx="434.8" cy="343.4" rx="3.6" ry="3.7" fill="url(#gTumI2)"/>
<ellipse cx="446.7" cy="312.7" rx="3.8" ry="3.7" fill="url(#gTumI1)"/>
<ellipse cx="446.7" cy="328" rx="4.8" ry="4.7" fill="url(#gTumI2)"/>
<ellipse cx="446.7" cy="343.4" rx="3.4" ry="3.3" fill="url(#gTumI2)"/>
<ellipse cx="457.7" cy="312.7" rx="3.5" ry="3.3" fill="url(#gTumI1)"/>
<ellipse cx="457.7" cy="328" rx="4.4" ry="4.4" fill="url(#gTumI2)"/>
<ellipse cx="457.7" cy="343.4" rx="3.4" ry="3.4" fill="url(#gTumI2)"/>
<ellipse cx="467.9" cy="312.7" rx="3.6" ry="3.4" fill="url(#gTumI1)"/>
<ellipse cx="467.9" cy="328" rx="4.5" ry="4.5" fill="url(#gTumI2)"/>
<ellipse cx="467.9" cy="343.4" rx="2.8" ry="2.6" fill="#4a78a8"/>
<ellipse cx="478.4" cy="312.7" rx="3.2" ry="3" fill="url(#gTumI1)"/>
<ellipse cx="478.4" cy="328" rx="4.2" ry="4.4" fill="url(#gTumI2)"/>
<ellipse cx="478.4" cy="343.4" rx="1.4" ry="1.3" fill="#4a78a8"/>
<ellipse cx="489.4" cy="312.7" rx="2.7" ry="2.7" fill="url(#gTumI1)"/>
<ellipse cx="489.4" cy="328" rx="4" ry="4.5" fill="url(#gTumI2)"/>
<ellipse cx="489.4" cy="343.4" rx="1" ry="1" fill="#4a78a8"/>
<text transform="translate(6.9 408) scale(0.9085 1)" x="0" y="0" font-size="11.4" font-weight="bold" fill="#0a0a0a" stroke="#0a0a0a" stroke-width="0.35">J</text>
<line x1="49.2" y1="410.8" x2="49.2" y2="503" stroke="#1a1a1a" stroke-width="1.4"/>
<line x1="46.2" y1="502.3" x2="49.2" y2="502.3" stroke="#1a1a1a" stroke-width="1.1"/>
<text x="43.4" y="505.2" font-size="8.1" text-anchor="end" fill="#333" stroke="#333" stroke-width="0.08">0</text>
<line x1="46.2" y1="487.64" x2="49.2" y2="487.64" stroke="#1a1a1a" stroke-width="1.1"/>
<text x="43.4" y="490.54" font-size="8.1" text-anchor="end" fill="#333" stroke="#333" stroke-width="0.08">600</text>
<line x1="46.2" y1="472.97" x2="49.2" y2="472.97" stroke="#1a1a1a" stroke-width="1.1"/>
<text x="43.4" y="475.87" font-size="8.1" text-anchor="end" fill="#333" stroke="#333" stroke-width="0.08">1200</text>
<line x1="46.2" y1="458.31" x2="49.2" y2="458.31" stroke="#1a1a1a" stroke-width="1.1"/>
<text x="43.4" y="461.21" font-size="8.1" text-anchor="end" fill="#333" stroke="#333" stroke-width="0.08">1800</text>
<line x1="46.2" y1="443.64" x2="49.2" y2="443.64" stroke="#1a1a1a" stroke-width="1.1"/>
<text x="43.4" y="446.54" font-size="8.1" text-anchor="end" fill="#333" stroke="#333" stroke-width="0.08">2400</text>
<line x1="46.2" y1="428.98" x2="49.2" y2="428.98" stroke="#1a1a1a" stroke-width="1.1"/>
<text x="43.4" y="431.88" font-size="8.1" text-anchor="end" fill="#333" stroke="#333" stroke-width="0.08">3000</text>
<line x1="46.2" y1="414.32" x2="49.2" y2="414.32" stroke="#1a1a1a" stroke-width="1.1"/>
<text x="43.4" y="417.22" font-size="8.1" text-anchor="end" fill="#333" stroke="#333" stroke-width="0.08">3600</text>
<line x1="48.5" y1="502.3" x2="183.5" y2="502.3" stroke="#1a1a1a" stroke-width="1.4"/>
<line x1="55.3" y1="502.3" x2="55.3" y2="505.3" stroke="#1a1a1a" stroke-width="1.1"/>
<line x1="68.77" y1="502.3" x2="68.77" y2="505.3" stroke="#1a1a1a" stroke-width="1.1"/>
<line x1="82.24" y1="502.3" x2="82.24" y2="505.3" stroke="#1a1a1a" stroke-width="1.1"/>
<line x1="95.71" y1="502.3" x2="95.71" y2="505.3" stroke="#1a1a1a" stroke-width="1.1"/>
<line x1="109.18" y1="502.3" x2="109.18" y2="505.3" stroke="#1a1a1a" stroke-width="1.1"/>
<line x1="122.65" y1="502.3" x2="122.65" y2="505.3" stroke="#1a1a1a" stroke-width="1.1"/>
<line x1="136.12" y1="502.3" x2="136.12" y2="505.3" stroke="#1a1a1a" stroke-width="1.1"/>
<line x1="149.59" y1="502.3" x2="149.59" y2="505.3" stroke="#1a1a1a" stroke-width="1.1"/>
<line x1="163.06" y1="502.3" x2="163.06" y2="505.3" stroke="#1a1a1a" stroke-width="1.1"/>
<line x1="176.53" y1="502.3" x2="176.53" y2="505.3" stroke="#1a1a1a" stroke-width="1.1"/>
<text x="55.3" y="516.3" font-size="8.4" text-anchor="middle" fill="#333" stroke="#333" stroke-width="0.1">6</text>
<text x="68.77" y="516.3" font-size="8.4" text-anchor="middle" fill="#333" stroke="#333" stroke-width="0.1">8</text>
<text x="82.24" y="516.3" font-size="8.4" text-anchor="middle" fill="#333" stroke="#333" stroke-width="0.1">10</text>
<text x="95.71" y="516.3" font-size="8.4" text-anchor="middle" fill="#333" stroke="#333" stroke-width="0.1">12</text>
<text x="109.18" y="516.3" font-size="8.4" text-anchor="middle" fill="#333" stroke="#333" stroke-width="0.1">14</text>
<text x="122.65" y="516.3" font-size="8.4" text-anchor="middle" fill="#333" stroke="#333" stroke-width="0.1">16</text>
<text x="136.12" y="516.3" font-size="8.4" text-anchor="middle" fill="#333" stroke="#333" stroke-width="0.1">18</text>
<text x="149.59" y="516.3" font-size="8.4" text-anchor="middle" fill="#333" stroke="#333" stroke-width="0.1">20</text>
<text x="163.06" y="516.3" font-size="8.4" text-anchor="middle" fill="#333" stroke="#333" stroke-width="0.1">22</text>
<text x="176.53" y="516.3" font-size="8.4" text-anchor="middle" fill="#333" stroke="#333" stroke-width="0.1">24</text>
<text x="116.4" y="529.6" font-size="10.2" text-anchor="middle" fill="#2a2a2a" stroke="#2a2a2a" stroke-width="0.22" textLength="67.4" lengthAdjust="spacingAndGlyphs">Days posttreatment</text>
<g transform="translate(19.2 453.1) rotate(-90) scale(0.7519 1)"><text x="0" y="0" font-size="10.2" text-anchor="middle" fill="#303030" stroke="#303030" stroke-width="0.06">Tumor volume (mm<tspan font-size="6.5" dy="-3.6">3</tspan><tspan dy="3.6">)</tspan></text></g>
<polyline points="55.3,502.3 68.77,502.06 82.24,501.93 95.71,501.69 109.18,501.32 122.65,499.86 136.12,494.97 149.59,492.28 163.06,484.46 176.53,480.55" fill="none" stroke="#6aaa48" stroke-width="1.7" stroke-linejoin="round"/>
<polygon points="55.3,500.28 53.43,503.65 57.17,503.65" fill="#6aaa48"/>
<polygon points="68.77,500.04 66.9,503.4 70.64,503.4" fill="#6aaa48"/>
<polygon points="82.24,499.91 80.37,503.28 84.11,503.28" fill="#6aaa48"/>
<polygon points="95.71,499.67 93.84,503.04 97.58,503.04" fill="#6aaa48"/>
<polygon points="109.18,499.3 107.31,502.67 111.05,502.67" fill="#6aaa48"/>
<line x1="122.65" y1="498.88" x2="122.65" y2="500.83" stroke="#6aaa48" stroke-width="1.1"/>
<line x1="120.15" y1="498.88" x2="125.15" y2="498.88" stroke="#6aaa48" stroke-width="1.1"/>
<line x1="120.15" y1="500.83" x2="125.15" y2="500.83" stroke="#6aaa48" stroke-width="1.1"/>
<polygon points="122.65,497.84 120.78,501.2 124.52,501.2" fill="#6aaa48"/>
<line x1="136.12" y1="491.55" x2="136.12" y2="498.39" stroke="#6aaa48" stroke-width="1.1"/>
<line x1="133.62" y1="491.55" x2="138.62" y2="491.55" stroke="#6aaa48" stroke-width="1.1"/>
<line x1="133.62" y1="498.39" x2="138.62" y2="498.39" stroke="#6aaa48" stroke-width="1.1"/>
<polygon points="136.12,492.95 134.25,496.31 137.99,496.31" fill="#6aaa48"/>
<line x1="149.59" y1="487.39" x2="149.59" y2="497.17" stroke="#6aaa48" stroke-width="1.1"/>
<line x1="147.09" y1="487.39" x2="152.09" y2="487.39" stroke="#6aaa48" stroke-width="1.1"/>
<line x1="147.09" y1="497.17" x2="152.09" y2="497.17" stroke="#6aaa48" stroke-width="1.1"/>
<polygon points="149.59,490.26 147.72,493.63 151.46,493.63" fill="#6aaa48"/>
<line x1="163.06" y1="476.15" x2="163.06" y2="492.77" stroke="#6aaa48" stroke-width="1.1"/>
<line x1="160.56" y1="476.15" x2="165.56" y2="476.15" stroke="#6aaa48" stroke-width="1.1"/>
<line x1="160.56" y1="492.77" x2="165.56" y2="492.77" stroke="#6aaa48" stroke-width="1.1"/>
<polygon points="163.06,482.44 161.19,485.81 164.93,485.81" fill="#6aaa48"/>
<line x1="176.53" y1="468.82" x2="176.53" y2="492.28" stroke="#6aaa48" stroke-width="1.1"/>
<line x1="174.03" y1="468.82" x2="179.03" y2="468.82" stroke="#6aaa48" stroke-width="1.1"/>
<line x1="174.03" y1="492.28" x2="179.03" y2="492.28" stroke="#6aaa48" stroke-width="1.1"/>
<polygon points="176.53,478.53 174.66,481.89 178.4,481.89" fill="#6aaa48"/>
<polyline points="55.3,502.3 68.77,502.06 82.24,501.81 95.71,501.57 109.18,500.83 122.65,497.41 136.12,490.57 149.59,486.41 163.06,478.1 176.53,468.57" fill="none" stroke="#3d2463" stroke-width="1.7" stroke-linejoin="round"/>
<circle cx="55.3" cy="502.3" r="1.7" fill="#3d2463"/>
<circle cx="68.77" cy="502.06" r="1.7" fill="#3d2463"/>
<circle cx="82.24" cy="501.81" r="1.7" fill="#3d2463"/>
<circle cx="95.71" cy="501.57" r="1.7" fill="#3d2463"/>
<circle cx="109.18" cy="500.83" r="1.7" fill="#3d2463"/>
<line x1="122.65" y1="495.95" x2="122.65" y2="498.88" stroke="#3d2463" stroke-width="1.1"/>
<line x1="120.15" y1="495.95" x2="125.15" y2="495.95" stroke="#3d2463" stroke-width="1.1"/>
<line x1="120.15" y1="498.88" x2="125.15" y2="498.88" stroke="#3d2463" stroke-width="1.1"/>
<circle cx="122.65" cy="497.41" r="1.7" fill="#3d2463"/>
<line x1="136.12" y1="486.17" x2="136.12" y2="494.97" stroke="#3d2463" stroke-width="1.1"/>
<line x1="133.62" y1="486.17" x2="138.62" y2="486.17" stroke="#3d2463" stroke-width="1.1"/>
<line x1="133.62" y1="494.97" x2="138.62" y2="494.97" stroke="#3d2463" stroke-width="1.1"/>
<circle cx="136.12" cy="490.57" r="1.7" fill="#3d2463"/>
<line x1="149.59" y1="482.01" x2="149.59" y2="490.81" stroke="#3d2463" stroke-width="1.1"/>
<line x1="147.09" y1="482.01" x2="152.09" y2="482.01" stroke="#3d2463" stroke-width="1.1"/>
<line x1="147.09" y1="490.81" x2="152.09" y2="490.81" stroke="#3d2463" stroke-width="1.1"/>
<circle cx="149.59" cy="486.41" r="1.7" fill="#3d2463"/>
<line x1="163.06" y1="470.28" x2="163.06" y2="485.93" stroke="#3d2463" stroke-width="1.1"/>
<line x1="160.56" y1="470.28" x2="165.56" y2="470.28" stroke="#3d2463" stroke-width="1.1"/>
<line x1="160.56" y1="485.93" x2="165.56" y2="485.93" stroke="#3d2463" stroke-width="1.1"/>
<circle cx="163.06" cy="478.1" r="1.7" fill="#3d2463"/>
<line x1="176.53" y1="457.57" x2="176.53" y2="479.57" stroke="#3d2463" stroke-width="1.1"/>
<line x1="174.03" y1="457.57" x2="179.03" y2="457.57" stroke="#3d2463" stroke-width="1.1"/>
<line x1="174.03" y1="479.57" x2="179.03" y2="479.57" stroke="#3d2463" stroke-width="1.1"/>
<circle cx="176.53" cy="468.57" r="1.7" fill="#3d2463"/>
<polyline points="55.3,502.3 68.77,501.08 82.24,499.86 95.71,498.63 109.18,496.68 122.65,491.06 136.12,478.1 149.59,468.57 163.06,446.33 176.53,434.6" fill="none" stroke="#e39a26" stroke-width="1.7" stroke-linejoin="round"/>
<rect x="53.77" y="500.77" width="3.06" height="3.06" fill="#e39a26" stroke="none" stroke-width="1"/>
<line x1="68.77" y1="500.59" x2="68.77" y2="501.57" stroke="#e39a26" stroke-width="1.1"/>
<line x1="66.27" y1="500.59" x2="71.27" y2="500.59" stroke="#e39a26" stroke-width="1.1"/>
<line x1="66.27" y1="501.57" x2="71.27" y2="501.57" stroke="#e39a26" stroke-width="1.1"/>
<rect x="67.24" y="499.55" width="3.06" height="3.06" fill="#e39a26" stroke="none" stroke-width="1"/>
<line x1="82.24" y1="499.12" x2="82.24" y2="500.59" stroke="#e39a26" stroke-width="1.1"/>
<line x1="79.74" y1="499.12" x2="84.74" y2="499.12" stroke="#e39a26" stroke-width="1.1"/>
<line x1="79.74" y1="500.59" x2="84.74" y2="500.59" stroke="#e39a26" stroke-width="1.1"/>
<rect x="80.71" y="498.33" width="3.06" height="3.06" fill="#e39a26" stroke="none" stroke-width="1"/>
<line x1="95.71" y1="497.66" x2="95.71" y2="499.61" stroke="#e39a26" stroke-width="1.1"/>
<line x1="93.21" y1="497.66" x2="98.21" y2="497.66" stroke="#e39a26" stroke-width="1.1"/>
<line x1="93.21" y1="499.61" x2="98.21" y2="499.61" stroke="#e39a26" stroke-width="1.1"/>
<rect x="94.18" y="497.1" width="3.06" height="3.06" fill="#e39a26" stroke="none" stroke-width="1"/>
<line x1="109.18" y1="495.21" x2="109.18" y2="498.15" stroke="#e39a26" stroke-width="1.1"/>
<line x1="106.68" y1="495.21" x2="111.68" y2="495.21" stroke="#e39a26" stroke-width="1.1"/>
<line x1="106.68" y1="498.15" x2="111.68" y2="498.15" stroke="#e39a26" stroke-width="1.1"/>
<rect x="107.65" y="495.15" width="3.06" height="3.06" fill="#e39a26" stroke="none" stroke-width="1"/>
<line x1="122.65" y1="489.1" x2="122.65" y2="493.01" stroke="#e39a26" stroke-width="1.1"/>
<line x1="120.15" y1="489.1" x2="125.15" y2="489.1" stroke="#e39a26" stroke-width="1.1"/>
<line x1="120.15" y1="493.01" x2="125.15" y2="493.01" stroke="#e39a26" stroke-width="1.1"/>
<rect x="121.12" y="489.53" width="3.06" height="3.06" fill="#e39a26" stroke="none" stroke-width="1"/>
<line x1="136.12" y1="475.42" x2="136.12" y2="480.79" stroke="#e39a26" stroke-width="1.1"/>
<line x1="133.62" y1="475.42" x2="138.62" y2="475.42" stroke="#e39a26" stroke-width="1.1"/>
<line x1="133.62" y1="480.79" x2="138.62" y2="480.79" stroke="#e39a26" stroke-width="1.1"/>
<rect x="134.59" y="476.57" width="3.06" height="3.06" fill="#e39a26" stroke="none" stroke-width="1"/>
<line x1="149.59" y1="462.22" x2="149.59" y2="474.93" stroke="#e39a26" stroke-width="1.1"/>
<line x1="147.09" y1="462.22" x2="152.09" y2="462.22" stroke="#e39a26" stroke-width="1.1"/>
<line x1="147.09" y1="474.93" x2="152.09" y2="474.93" stroke="#e39a26" stroke-width="1.1"/>
<rect x="148.06" y="467.04" width="3.06" height="3.06" fill="#e39a26" stroke="none" stroke-width="1"/>
<line x1="163.06" y1="438.27" x2="163.06" y2="454.4" stroke="#e39a26" stroke-width="1.1"/>
<line x1="160.56" y1="438.27" x2="165.56" y2="438.27" stroke="#e39a26" stroke-width="1.1"/>
<line x1="160.56" y1="454.4" x2="165.56" y2="454.4" stroke="#e39a26" stroke-width="1.1"/>
<rect x="161.53" y="444.8" width="3.06" height="3.06" fill="#e39a26" stroke="none" stroke-width="1"/>
<line x1="176.53" y1="423.36" x2="176.53" y2="445.84" stroke="#e39a26" stroke-width="1.1"/>
<line x1="174.03" y1="423.36" x2="179.03" y2="423.36" stroke="#e39a26" stroke-width="1.1"/>
<line x1="174.03" y1="445.84" x2="179.03" y2="445.84" stroke="#e39a26" stroke-width="1.1"/>
<rect x="175" y="433.07" width="3.06" height="3.06" fill="#e39a26" stroke="none" stroke-width="1"/>
<line x1="73.1" y1="421.2" x2="83.2" y2="421.2" stroke="#3d2463" stroke-width="1.6"/>
<circle cx="78.15" cy="421.2" r="1.9" fill="#3d2463"/>
<text x="86.4" y="423.8" font-size="8.1" text-anchor="start" fill="#2a2a2a" stroke="#2a2a2a" stroke-width="0.22" textLength="24.5" lengthAdjust="spacingAndGlyphs">Vehicle</text>
<line x1="73.1" y1="430.2" x2="83.2" y2="430.2" stroke="#e39a26" stroke-width="1.6"/>
<rect x="76.25" y="428.3" width="3.8" height="3.8" fill="#e39a26" stroke="none" stroke-width="1"/>
<text x="86.4" y="432.8" font-size="8.1" text-anchor="start" fill="#2a2a2a" stroke="#2a2a2a" stroke-width="0.22" textLength="9.1" lengthAdjust="spacingAndGlyphs">P4</text>
<line x1="73.1" y1="438.8" x2="83.2" y2="438.8" stroke="#6aaa48" stroke-width="1.6"/>
<polygon points="78.15,436.34 75.87,440.44 80.43,440.44" fill="#6aaa48"/>
<text x="86.4" y="441.4" font-size="8.1" text-anchor="start" fill="#2a2a2a" stroke="#2a2a2a" stroke-width="0.22" textLength="18.7" lengthAdjust="spacingAndGlyphs">P4-M</text>
<circle cx="67.05" cy="497.8" r="1.2" fill="#1a1a1a"/>
<circle cx="70.15" cy="497.8" r="1.2" fill="#1a1a1a"/>
<circle cx="79.3" cy="496.4" r="1.2" fill="#1a1a1a"/>
<circle cx="82.4" cy="496.4" r="1.2" fill="#1a1a1a"/>
<circle cx="85.5" cy="496.4" r="1.2" fill="#1a1a1a"/>
<circle cx="93.1" cy="495" r="1.2" fill="#1a1a1a"/>
<circle cx="96.2" cy="495" r="1.2" fill="#1a1a1a"/>
<circle cx="99.3" cy="495" r="1.2" fill="#1a1a1a"/>
<circle cx="106.9" cy="492.4" r="1.2" fill="#1a1a1a"/>
<circle cx="110" cy="492.4" r="1.2" fill="#1a1a1a"/>
<circle cx="113.1" cy="492.4" r="1.2" fill="#1a1a1a"/>
<circle cx="119.4" cy="486" r="1.2" fill="#1a1a1a"/>
<circle cx="122.5" cy="486" r="1.2" fill="#1a1a1a"/>
<circle cx="125.6" cy="486" r="1.2" fill="#1a1a1a"/>
<circle cx="133.1" cy="472" r="1.2" fill="#1a1a1a"/>
<circle cx="136.2" cy="472" r="1.2" fill="#1a1a1a"/>
<circle cx="139.3" cy="472" r="1.2" fill="#1a1a1a"/>
<circle cx="146.6" cy="458.6" r="1.2" fill="#1a1a1a"/>
<circle cx="149.7" cy="458.6" r="1.2" fill="#1a1a1a"/>
<circle cx="152.8" cy="458.6" r="1.2" fill="#1a1a1a"/>
<circle cx="160.1" cy="435.3" r="1.2" fill="#1a1a1a"/>
<circle cx="163.2" cy="435.3" r="1.2" fill="#1a1a1a"/>
<circle cx="166.3" cy="435.3" r="1.2" fill="#1a1a1a"/>
<circle cx="173.4" cy="421" r="1.2" fill="#1a1a1a"/>
<circle cx="176.5" cy="421" r="1.2" fill="#1a1a1a"/>
<circle cx="179.6" cy="421" r="1.2" fill="#1a1a1a"/>
<text transform="translate(234.7 407.9) scale(0.9381 1)" x="0" y="0" font-size="11.4" font-weight="bold" fill="#0a0a0a" stroke="#0a0a0a" stroke-width="0.35">K</text>
<line x1="266.3" y1="411" x2="266.3" y2="503.1" stroke="#1a1a1a" stroke-width="1.4"/>
<line x1="263.3" y1="502.4" x2="266.3" y2="502.4" stroke="#1a1a1a" stroke-width="1.1"/>
<text x="260.2" y="505.37" font-size="8.3" text-anchor="end" fill="#333" stroke="#333" stroke-width="0.08">0.0</text>
<line x1="263.3" y1="484.54" x2="266.3" y2="484.54" stroke="#1a1a1a" stroke-width="1.1"/>
<text x="260.2" y="487.51" font-size="8.3" text-anchor="end" fill="#333" stroke="#333" stroke-width="0.08">0.5</text>
<line x1="263.3" y1="466.68" x2="266.3" y2="466.68" stroke="#1a1a1a" stroke-width="1.1"/>
<text x="260.2" y="469.65" font-size="8.3" text-anchor="end" fill="#333" stroke="#333" stroke-width="0.08">1.0</text>
<line x1="263.3" y1="448.82" x2="266.3" y2="448.82" stroke="#1a1a1a" stroke-width="1.1"/>
<text x="260.2" y="451.79" font-size="8.3" text-anchor="end" fill="#333" stroke="#333" stroke-width="0.08">1.5</text>
<line x1="263.3" y1="430.96" x2="266.3" y2="430.96" stroke="#1a1a1a" stroke-width="1.1"/>
<text x="260.2" y="433.93" font-size="8.3" text-anchor="end" fill="#333" stroke="#333" stroke-width="0.08">2.0</text>
<line x1="263.3" y1="413.1" x2="266.3" y2="413.1" stroke="#1a1a1a" stroke-width="1.1"/>
<text x="260.2" y="416.07" font-size="8.3" text-anchor="end" fill="#333" stroke="#333" stroke-width="0.08">2.5</text>
<line x1="265.6" y1="502.4" x2="401.5" y2="502.4" stroke="#1a1a1a" stroke-width="1.4"/>
<line x1="287.6" y1="502.4" x2="287.6" y2="505.4" stroke="#1a1a1a" stroke-width="1.1"/>
<line x1="333" y1="502.4" x2="333" y2="505.4" stroke="#1a1a1a" stroke-width="1.1"/>
<line x1="378.4" y1="502.4" x2="378.4" y2="505.4" stroke="#1a1a1a" stroke-width="1.1"/>
<text x="287.6" y="515.8" font-size="8.4" text-anchor="middle" fill="#2a2a2a" stroke="#2a2a2a" stroke-width="0.22">Vehicle</text>
<text x="333" y="515.8" font-size="8.4" text-anchor="middle" fill="#2a2a2a" stroke="#2a2a2a" stroke-width="0.22">P4</text>
<text x="378.4" y="515.8" font-size="8.4" text-anchor="middle" fill="#2a2a2a" stroke="#2a2a2a" stroke-width="0.22">P4-M</text>
<g transform="translate(243 456.9) rotate(-90) scale(0.7848 1)"><text x="0" y="0" font-size="10.2" text-anchor="middle" fill="#303030" stroke="#303030" stroke-width="0.06">Tumor weight (g)</text></g>
<line x1="272.6" y1="466.5" x2="303.9" y2="466.5" stroke="#5a3c82" stroke-width="1.3"/>
<line x1="280" y1="449.5" x2="295.8" y2="449.5" stroke="#5a3c82" stroke-width="1.3"/>
<line x1="280" y1="483.9" x2="295.8" y2="483.9" stroke="#5a3c82" stroke-width="1.3"/>
<line x1="287.6" y1="449.5" x2="287.6" y2="483.9" stroke="#5a3c82" stroke-width="1.1"/>
<circle cx="287.6" cy="442.1" r="2" fill="#2e1a48"/>
<circle cx="282.5" cy="456.5" r="2" fill="#2e1a48"/>
<circle cx="287.6" cy="452.5" r="2" fill="#2e1a48"/>
<circle cx="287.6" cy="459.5" r="2" fill="#2e1a48"/>
<circle cx="287.6" cy="466.5" r="2" fill="#2e1a48"/>
<circle cx="287.6" cy="473.9" r="2" fill="#2e1a48"/>
<circle cx="293.4" cy="488.3" r="2" fill="#2e1a48"/>
<circle cx="287.6" cy="492" r="2" fill="#2e1a48"/>
<line x1="317.8" y1="436.1" x2="348.6" y2="436.1" stroke="#e39a26" stroke-width="1.2"/>
<line x1="324.5" y1="425.6" x2="341.2" y2="425.6" stroke="#e39a26" stroke-width="1.2"/>
<line x1="324.5" y1="446.8" x2="341.2" y2="446.8" stroke="#e39a26" stroke-width="1.2"/>
<line x1="333" y1="425.6" x2="333" y2="446.8" stroke="#e39a26" stroke-width="1"/>
<rect x="325.8" y="425.2" width="4" height="4" fill="#e39a26" stroke="none" stroke-width="1"/>
<rect x="331" y="421.4" width="4" height="4" fill="#e39a26" stroke="none" stroke-width="1"/>
<rect x="337" y="425.2" width="4" height="4" fill="#e39a26" stroke="none" stroke-width="1"/>
<rect x="331" y="429.2" width="4" height="4" fill="#e39a26" stroke="none" stroke-width="1"/>
<rect x="325.8" y="435.9" width="4" height="4" fill="#e39a26" stroke="none" stroke-width="1"/>
<rect x="331" y="437" width="4" height="4" fill="#e39a26" stroke="none" stroke-width="1"/>
<rect x="337" y="445.9" width="4" height="4" fill="#e39a26" stroke="none" stroke-width="1"/>
<rect x="331" y="450.8" width="4" height="4" fill="#e39a26" stroke="none" stroke-width="1"/>
<circle cx="331.65" cy="419" r="1.2" fill="#2a3050"/>
<circle cx="334.75" cy="419" r="1.2" fill="#2a3050"/>
<line x1="363.5" y1="482" x2="394" y2="482" stroke="#6aaa48" stroke-width="1.2"/>
<line x1="370" y1="470.2" x2="386.9" y2="470.2" stroke="#6aaa48" stroke-width="1.2"/>
<line x1="370" y1="494.2" x2="386.9" y2="494.2" stroke="#6aaa48" stroke-width="1.2"/>
<line x1="378.4" y1="470.2" x2="378.4" y2="494.2" stroke="#6aaa48" stroke-width="1"/>
<polygon points="378.4,459.42 376.1,463.56 380.7,463.56" fill="#6aaa48"/>
<polygon points="378.4,468.32 376.1,472.46 380.7,472.46" fill="#6aaa48"/>
<polygon points="367.9,476.52 365.6,480.66 370.2,480.66" fill="#6aaa48"/>
<polygon points="373.5,482.12 371.2,486.26 375.8,486.26" fill="#6aaa48"/>
<polygon points="378.4,482.12 376.1,486.26 380.7,486.26" fill="#6aaa48"/>
<polygon points="383.5,479.52 381.2,483.66 385.8,483.66" fill="#6aaa48"/>
<polygon points="383.5,493.32 381.2,497.46 385.8,497.46" fill="#6aaa48"/>
<polygon points="378.4,496.62 376.1,500.76 380.7,500.76" fill="#6aaa48"/>
<rect x="0.5" y="0.5" width="518.3" height="537.3" fill="none" stroke="#000" stroke-width="1.2"/>
<line x1="519.2" y1="0" x2="519.2" y2="539" stroke="#000" stroke-width="1.6"/>
<line x1="0" y1="538.2" x2="520" y2="538.2" stroke="#000" stroke-width="1.6"/>
</svg>
</body></html>
